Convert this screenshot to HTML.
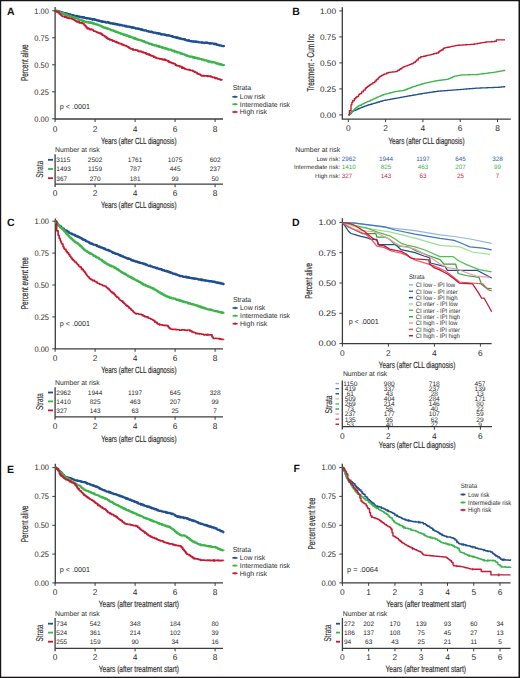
<!DOCTYPE html>
<html><head><meta charset="utf-8"><title>Figure</title>
<style>html,body{margin:0;padding:0;background:#fff;}svg{display:block;}text{font-family:"Liberation Sans", sans-serif;text-rendering:geometricPrecision;}</style>
</head><body>
<svg width="520" height="678" viewBox="0 0 520 678">
<rect width="520" height="678" fill="#fff"/>
<rect x="0" y="0" width="1.2" height="678" fill="#161414"/><rect x="0" y="0" width="520" height="1.25" fill="#161414"/><rect x="518.5" y="0" width="1.5" height="678" fill="#161414"/><rect x="0" y="676.7" width="520" height="1.3" fill="#161414"/>
<text x="6.90" y="14.86" font-size="10.5" fill="#111" stroke="#111" stroke-width="0.0" font-weight="bold">A</text>
<line x1="55.10" y1="7.00" x2="55.10" y2="119.50" stroke="#3c3c3c" stroke-width="1.3"/>
<line x1="52.10" y1="10.80" x2="55.10" y2="10.80" stroke="#3c3c3c" stroke-width="1.0"/>
<text x="48.80" y="13.66" font-size="8.0" fill="#2b2b2b" stroke="#2b2b2b" stroke-width="0.0" text-anchor="end" textLength="14.50" lengthAdjust="spacingAndGlyphs">1.00</text>
<line x1="52.10" y1="37.80" x2="55.10" y2="37.80" stroke="#3c3c3c" stroke-width="1.0"/>
<text x="48.80" y="40.66" font-size="8.0" fill="#2b2b2b" stroke="#2b2b2b" stroke-width="0.0" text-anchor="end" textLength="14.50" lengthAdjust="spacingAndGlyphs">0.75</text>
<line x1="52.10" y1="64.80" x2="55.10" y2="64.80" stroke="#3c3c3c" stroke-width="1.0"/>
<text x="48.80" y="67.66" font-size="8.0" fill="#2b2b2b" stroke="#2b2b2b" stroke-width="0.0" text-anchor="end" textLength="14.50" lengthAdjust="spacingAndGlyphs">0.50</text>
<line x1="52.10" y1="91.80" x2="55.10" y2="91.80" stroke="#3c3c3c" stroke-width="1.0"/>
<text x="48.80" y="94.66" font-size="8.0" fill="#2b2b2b" stroke="#2b2b2b" stroke-width="0.0" text-anchor="end" textLength="14.50" lengthAdjust="spacingAndGlyphs">0.25</text>
<line x1="52.10" y1="118.80" x2="55.10" y2="118.80" stroke="#3c3c3c" stroke-width="1.0"/>
<text x="48.80" y="121.66" font-size="8.0" fill="#2b2b2b" stroke="#2b2b2b" stroke-width="0.0" text-anchor="end" textLength="14.50" lengthAdjust="spacingAndGlyphs">0.00</text>
<line x1="55.10" y1="119.00" x2="223.00" y2="119.00" stroke="#3c3c3c" stroke-width="1.3"/>
<line x1="55.10" y1="119.00" x2="55.10" y2="122.00" stroke="#3c3c3c" stroke-width="1.0"/>
<text x="55.10" y="131.51" font-size="8.4" fill="#2b2b2b" stroke="#2b2b2b" stroke-width="0.0" text-anchor="middle">0</text>
<line x1="95.10" y1="119.00" x2="95.10" y2="122.00" stroke="#3c3c3c" stroke-width="1.0"/>
<text x="95.10" y="131.51" font-size="8.4" fill="#2b2b2b" stroke="#2b2b2b" stroke-width="0.0" text-anchor="middle">2</text>
<line x1="135.10" y1="119.00" x2="135.10" y2="122.00" stroke="#3c3c3c" stroke-width="1.0"/>
<text x="135.10" y="131.51" font-size="8.4" fill="#2b2b2b" stroke="#2b2b2b" stroke-width="0.0" text-anchor="middle">4</text>
<line x1="175.10" y1="119.00" x2="175.10" y2="122.00" stroke="#3c3c3c" stroke-width="1.0"/>
<text x="175.10" y="131.51" font-size="8.4" fill="#2b2b2b" stroke="#2b2b2b" stroke-width="0.0" text-anchor="middle">6</text>
<line x1="215.10" y1="119.00" x2="215.10" y2="122.00" stroke="#3c3c3c" stroke-width="1.0"/>
<text x="215.10" y="131.51" font-size="8.4" fill="#2b2b2b" stroke="#2b2b2b" stroke-width="0.0" text-anchor="middle">8</text>
<text x="101.00" y="144.00" font-size="9.0" fill="#2b2b2b" stroke="#2b2b2b" stroke-width="0.18" textLength="75.50" lengthAdjust="spacingAndGlyphs">Years (after CLL diagnosis)</text>
<text x="24.60" y="66.28" font-size="10.0" fill="#2b2b2b" stroke="#2b2b2b" stroke-width="0.18" text-anchor="middle" textLength="36.60" lengthAdjust="spacingAndGlyphs" transform="rotate(-90 24.60 62.70)">Percent alive</text>
<text x="59.80" y="108.58" font-size="7.2" fill="#2b2b2b" stroke="#2b2b2b" stroke-width="0.0">p &lt; .0001</text>
<text x="232.70" y="89.88" font-size="7.2" fill="#2b2b2b" stroke="#2b2b2b" stroke-width="0.0" textLength="18.40" lengthAdjust="spacingAndGlyphs">Strata</text>
<line x1="232.40" y1="96.80" x2="237.40" y2="96.80" stroke="#1f4f8f" stroke-width="1.6"/>
<line x1="234.90" y1="95.50" x2="234.90" y2="98.10" stroke="#1f4f8f" stroke-width="0.9"/>
<text x="239.80" y="99.27" font-size="6.9" fill="#2b2b2b" stroke="#2b2b2b" stroke-width="0.0" textLength="25.30" lengthAdjust="spacingAndGlyphs">Low risk</text>
<line x1="232.40" y1="104.20" x2="237.40" y2="104.20" stroke="#3bb54a" stroke-width="1.6"/>
<line x1="234.90" y1="102.90" x2="234.90" y2="105.50" stroke="#3bb54a" stroke-width="0.9"/>
<text x="239.80" y="106.67" font-size="6.9" fill="#2b2b2b" stroke="#2b2b2b" stroke-width="0.0" textLength="50.20" lengthAdjust="spacingAndGlyphs">Intermediate risk</text>
<line x1="232.40" y1="112.00" x2="237.40" y2="112.00" stroke="#c8172f" stroke-width="1.6"/>
<line x1="234.90" y1="110.70" x2="234.90" y2="113.30" stroke="#c8172f" stroke-width="0.9"/>
<text x="239.80" y="114.47" font-size="6.9" fill="#2b2b2b" stroke="#2b2b2b" stroke-width="0.0" textLength="27.20" lengthAdjust="spacingAndGlyphs">High risk</text>
<path d="M55.10,10.80H55.48V11.14H56.24V10.93H56.84V11.22H57.53V11.64H57.88V11.20H58.68V11.70H59.44V11.59H60.01V12.25H60.45V12.52H61.29V12.10H61.60V12.54H62.47V12.66H62.90V12.80H63.21V12.74H63.78V13.08H64.22V13.01H64.65V13.28H65.12V13.10H65.92V13.67H66.61V13.58H67.50V14.28H67.88V14.00H68.61V14.45H69.47V14.46H70.27V14.84H70.75V14.90H71.58V15.29H72.18V15.26H72.51V15.10H73.28V15.41H73.69V15.61H74.41V15.86H74.93V15.80H75.54V16.16H76.15V16.01H76.75V15.87H77.07V16.41H77.96V16.51H78.50V16.32H79.10V17.01H79.86V16.85H80.68V16.79H81.29V17.42H81.93V17.20H82.39V17.36H83.27V17.15H84.04V17.87H84.87V17.98H85.66V17.98H86.29V18.04H86.63V18.41H87.27V18.07H87.87V18.39H88.39V18.39H89.01V18.71H89.68V18.72H89.99V18.62H90.40V18.95H91.22V19.26H91.99V19.43H92.45V19.53H93.15V19.14H93.46V19.15H94.21V19.50H94.58V19.85H95.09V19.59H95.48V20.01H95.88V19.93H96.61V20.23H97.10V20.37H97.42V20.38H97.97V20.38H98.34V20.97H98.94V20.64H99.61V21.22H99.92V20.74H100.31V21.31H100.70V21.38H101.41V21.41H101.84V21.79H102.62V21.63H103.05V21.80H103.59V21.86H104.08V21.99H104.42V21.83H105.30V22.40H105.78V22.49H106.27V22.64H107.02V22.42H107.47V22.22H108.29V22.41H109.09V23.21H109.73V22.78H110.55V23.50H111.27V23.32H111.80V23.31H112.22V23.62H112.78V23.40H113.14V23.80H113.62V23.78H114.12V24.13H114.96V23.70H115.38V24.00H116.27V24.50H116.77V24.20H117.48V24.77H118.34V24.60H119.17V25.01H119.76V25.34H120.20V25.24H120.55V24.93H121.39V25.13H122.15V25.55H122.95V25.55H123.46V25.60H124.28V25.98H125.15V26.36H125.53V26.20H125.90V25.92H126.24V26.56H127.01V26.69H127.52V26.65H128.29V26.64H128.93V26.66H129.28V26.76H130.11V27.14H130.97V27.24H131.43V27.56H132.23V27.18H132.93V27.38H133.30V28.01H133.63V27.62H134.52V27.93H134.89V27.84H135.33V28.35H135.69V28.55H136.22V28.72H137.07V28.45H137.52V28.69H137.88V28.90H138.20V28.53H139.09V28.95H139.75V29.22H140.24V29.06H141.09V29.90H141.97V29.52H142.40V29.98H143.29V30.14H144.00V30.39H144.45V30.42H144.94V30.33H145.29V30.44H146.18V30.77H146.87V31.08H147.73V31.11H148.22V31.18H148.71V31.67H149.54V31.49H150.04V31.78H150.69V31.97H151.14V31.68H151.58V31.82H152.21V31.97H152.56V32.43H153.03V32.64H153.63V32.81H154.02V32.64H154.80V32.51H155.67V32.76H156.44V33.48H157.23V33.18H157.59V33.39H158.44V33.42H159.28V33.48H160.13V33.58H160.62V34.30H161.40V34.46H162.20V34.52H162.92V34.27H163.48V34.37H164.21V34.88H164.66V34.55H165.53V35.25H166.16V35.20H166.97V35.30H167.51V35.34H167.97V35.21H168.65V35.63H169.30V35.52H169.81V35.70H170.19V35.87H170.98V36.17H171.52V36.45H171.96V36.13H172.58V36.63H173.27V36.76H173.98V37.14H174.42V37.08H175.01V37.04H175.56V37.40H176.40V37.86H176.87V37.79H177.20V37.46H177.80V38.18H178.20V38.20H179.03V38.08H179.75V38.63H180.27V38.66H181.01V38.77H181.82V39.18H182.70V39.17H183.11V39.04H183.54V39.37H184.29V39.19H185.00V39.83H185.51V39.82H185.91V40.06H186.23V40.32H187.02V40.27H187.48V40.58H188.35V40.25H189.12V40.93H189.81V41.00H190.38V41.30H191.26V41.14H192.05V41.36H192.45V41.32H192.82V41.77H193.70V41.31H194.36V41.58H194.73V41.54H195.18V41.91H195.48V41.55H196.04V41.49H196.72V41.97H197.52V41.78H197.99V42.06H198.45V42.14H198.91V42.26H199.68V42.42H200.56V42.33H201.16V42.61H201.92V42.49H202.45V42.35H202.81V42.75H203.19V42.75H203.81V42.97H204.57V43.05H204.95V42.76H205.60V42.70H206.20V42.79H206.81V42.61H207.38V42.98H207.86V43.00H208.63V43.28H209.23V43.32H209.75V43.06H210.06V43.15H210.72V43.64H211.51V43.46H212.41V43.52H213.21V43.61H213.95V44.20H214.44V43.74H215.11V44.16H215.62V43.91H216.16V44.34H216.70V44.78H217.35V44.85H218.19V45.06H218.79V45.20H219.47V45.30H220.15V45.30H220.82V45.62H221.69V45.94H222.49V46.12H223.28V46.20H223.79V46.09H224.00V46.56" fill="none" stroke="#1f4f8f" stroke-width="2.2" stroke-linejoin="round"/>
<path d="M148.39,30.15v2.40M83.33,16.31v2.40M196.29,40.65v2.40M138.49,27.74v2.40M135.59,27.04v2.40M65.63,12.36v2.40M142.76,28.78v2.40M181.65,37.66v2.40M128.21,25.51v2.40M117.02,23.25v2.40M167.07,34.16v2.40M61.38,11.25v2.40M142.24,28.65v2.40M215.06,42.93v2.40M172.65,35.45v2.40M124.78,24.81v2.40M172.39,35.38v2.40M158.47,32.37v2.40M92.75,18.15v2.40M92.56,18.12v2.40M205.09,41.58v2.40M102.74,20.44v2.40M70.52,13.58v2.40M195.91,40.61v2.40M144.90,29.30v2.40M119.19,23.68v2.40M142.96,28.83v2.40M180.32,37.33v2.40M86.06,16.84v2.40M166.44,34.03v2.40M176.46,36.38v2.40M193.31,40.34v2.40M102.85,20.46v2.40M159.24,32.53v2.40M96.61,19.06v2.40M151.18,30.82v2.40M86.70,16.97v2.40M189.12,39.49v2.40M201.89,41.24v2.40M112.79,22.41v2.40M94.98,18.66v2.40M217.99,43.64v2.40M175.34,36.11v2.40M198.09,40.84v2.40M63.17,11.72v2.40M207.31,41.81v2.40M161.36,32.97v2.40M110.61,21.99v2.40M129.73,25.81v2.40M184.45,38.35v2.40M188.40,39.32v2.40M89.60,17.54v2.40M161.93,33.09v2.40M85.58,16.75v2.40M219.53,44.01v2.40M131.69,26.21v2.40M209.59,42.05v2.40M178.92,36.99v2.40M158.68,32.41v2.40M101.56,20.21v2.40" fill="none" stroke="#1f4f8f" stroke-width="0.7"/>
<path d="M55.10,10.80H55.97V11.39H56.31V10.89H57.11V11.61H57.81V11.53H58.47V11.95H59.12V11.84H59.68V12.19H60.42V12.90H61.28V12.93H61.85V12.97H62.17V12.93H62.75V13.37H63.28V13.99H63.90V14.01H64.34V13.81H64.83V14.08H65.44V14.89H66.14V14.57H66.98V15.29H67.72V15.62H68.48V15.81H68.99V16.12H69.87V15.85H70.62V16.50H71.20V16.57H71.79V17.06H72.39V17.20H72.90V17.42H73.74V17.41H74.38V17.97H75.12V17.96H75.55V18.03H76.27V18.21H77.12V18.62H77.96V19.00H78.84V19.63H79.44V19.74H80.13V20.07H80.62V20.00H81.22V20.76H81.90V20.43H82.69V21.21H83.54V21.18H84.28V21.29H84.97V21.57H85.41V22.08H85.77V21.90H86.59V21.87H87.01V22.40H87.57V22.39H87.89V22.20H88.29V22.50H88.64V22.77H88.95V22.67H89.27V22.40H90.05V22.48H90.46V22.94H91.00V22.59H91.89V22.84H92.21V23.04H92.88V23.45H93.25V23.24H93.57V23.39H94.33V23.89H95.17V24.22H95.99V24.50H96.57V24.39H97.27V24.72H97.63V24.95H98.45V25.04H99.10V25.48H99.71V25.54H100.59V25.95H101.25V26.31H101.56V26.52H101.95V26.31H102.27V26.50H102.62V26.97H103.23V27.43H104.09V27.76H104.53V27.54H104.98V27.81H105.65V28.20H106.38V28.09H106.93V28.48H107.24V28.25H107.78V28.51H108.52V28.87H108.88V28.96H109.31V29.15H109.93V29.55H110.41V29.85H110.84V30.19H111.72V30.40H112.28V30.45H112.93V30.37H113.48V30.90H113.89V30.75H114.67V31.23H115.28V31.85H115.95V31.65H116.84V32.04H117.15V32.37H117.51V32.24H118.31V32.78H118.62V32.73H119.17V32.95H119.59V33.17H119.94V33.08H120.46V33.72H120.81V33.72H121.22V33.73H121.76V33.85H122.51V34.06H122.88V34.00H123.23V34.64H123.92V34.95H124.63V34.55H125.33V35.32H126.06V35.39H126.58V35.54H127.35V35.68H127.97V36.05H128.84V36.58H129.70V36.91H130.18V36.65H130.77V36.88H131.33V37.37H132.18V37.61H132.97V37.54H133.49V38.36H133.87V38.09H134.21V37.97H135.05V38.90H135.74V38.54H136.22V38.77H136.92V39.33H137.48V39.42H137.85V39.56H138.72V40.01H139.08V39.96H139.81V40.04H140.64V40.47H141.37V40.68H142.26V41.26H142.91V41.03H143.47V41.15H144.13V41.97H144.54V41.85H145.13V41.98H145.85V42.61H146.58V42.53H147.45V42.74H148.20V43.23H148.96V43.63H149.39V43.62H149.93V43.84H150.82V44.12H151.13V44.11H151.85V44.65H152.55V44.82H152.86V45.00H153.59V44.98H154.44V45.43H154.80V45.49H155.56V45.29H156.30V45.78H156.72V46.06H157.10V46.04H157.66V45.96H158.30V46.30H158.72V46.78H159.07V46.21H159.66V46.97H160.35V47.12H160.95V47.24H161.45V47.11H162.05V47.12H162.40V47.73H162.80V47.85H163.57V47.84H164.28V48.32H165.09V48.11H165.49V48.40H166.07V48.52H166.38V48.79H167.26V48.92H167.88V49.12H168.45V49.63H168.93V49.62H169.52V49.73H170.37V49.69H171.16V50.11H171.85V50.69H172.54V50.63H173.35V50.69H174.03V51.13H174.65V51.65H175.43V51.76H175.91V51.64H176.48V51.83H176.95V52.49H177.32V52.52H177.85V52.37H178.34V52.34H178.91V52.59H179.48V52.86H180.31V53.58H180.88V53.57H181.74V53.64H182.10V53.69H182.51V54.14H183.03V54.09H183.81V54.26H184.60V54.80H185.14V55.11H185.64V55.32H186.50V55.34H187.21V55.89H187.96V56.00H188.78V56.40H189.53V56.68H190.01V56.59H190.71V56.59H191.24V56.59H192.12V56.94H192.71V57.47H193.12V57.63H193.49V57.07H194.00V57.43H194.85V58.02H195.61V57.90H196.24V57.92H197.04V58.24H197.51V58.53H197.90V58.41H198.75V58.47H199.14V58.65H199.59V58.92H200.04V58.98H200.49V59.02H201.15V59.26H201.68V59.70H202.01V59.35H202.83V59.76H203.59V59.75H204.21V60.40H204.71V60.48H205.38V60.39H206.27V60.62H206.86V60.93H207.35V61.21H208.01V61.20H208.63V61.64H209.52V61.77H210.10V61.62H210.71V61.52H211.08V62.28H211.45V62.33H212.16V62.50H212.51V62.16H213.29V62.16H213.65V62.49H214.05V62.45H214.76V62.60H215.64V63.22H215.97V63.48H216.41V63.30H217.05V63.23H217.65V63.33H218.07V64.04H218.86V63.97H219.57V64.41H219.96V64.24H220.33V64.07H220.70V64.24H221.03V64.33H221.56V64.75H222.37V65.16H223.10V65.07H223.95V65.05H224.00V65.52" fill="none" stroke="#3bb54a" stroke-width="2.2" stroke-linejoin="round"/>
<path d="M162.14,46.28v2.40M92.99,22.10v2.40M120.69,32.30v2.40M107.44,27.45v2.40M129.58,35.43v2.40M129.06,35.25v2.40M124.15,33.52v2.40M190.45,55.41v2.40M192.73,56.00v2.40M151.41,43.03v2.40M136.53,37.87v2.40M105.29,26.66v2.40M185.07,53.67v2.40M221.82,63.53v2.40M96.11,23.20v2.40M174.74,50.24v2.40M174.07,50.02v2.40M167.30,47.83v2.40M63.18,12.47v2.40M149.63,42.41v2.40M91.61,21.83v2.40M90.34,21.58v2.40M154.29,43.92v2.40M165.12,47.17v2.40M161.86,46.19v2.40M181.23,52.39v2.40M174.67,50.21v2.40M136.93,38.01v2.40M66.03,13.55v2.40M186.21,54.04v2.40M194.65,56.50v2.40M196.71,57.03v2.40M157.32,44.83v2.40M64.43,12.98v2.40M90.60,21.63v2.40M76.07,17.16v2.40M163.59,46.71v2.40M148.40,41.98v2.40M89.04,21.33v2.40M216.67,62.19v2.40M220.35,63.15v2.40M207.29,59.75v2.40M135.06,37.36v2.40M106.51,27.11v2.40M92.75,22.05v2.40M194.82,56.54v2.40M174.39,50.12v2.40M104.11,26.22v2.40M207.82,59.89v2.40M152.49,43.38v2.40M126.56,34.37v2.40M127.02,34.53v2.40M177.62,51.19v2.40M133.64,36.86v2.40M167.47,47.88v2.40M78.35,18.08v2.40M174.61,50.20v2.40M103.26,25.91v2.40M209.15,60.23v2.40M93.67,22.26v2.40" fill="none" stroke="#3bb54a" stroke-width="0.7"/>
<path d="M55.10,10.80H55.61V11.11H56.25V11.50H57.11V11.53H57.42V12.31H57.96V12.14H59.15V13.53H60.20V14.59H61.08V15.06H61.95V16.07H62.72V16.35H63.63V16.26H64.61V17.17H65.18V16.85H66.26V17.42H67.21V17.95H68.15V18.18H68.80V18.22H69.50V18.49H70.59V18.25H71.02V18.51H72.19V19.15H73.05V19.39H73.81V19.75H74.42V20.18H75.25V20.85H76.16V21.32H77.23V21.91H78.14V21.70H79.21V22.84H80.33V22.87H81.27V22.88H82.32V23.50H82.87V23.26H83.94V24.50H84.32V24.91H84.99V25.39H85.56V26.72H86.64V27.75H87.49V28.07H88.44V28.57H89.53V29.41H90.29V29.65H90.87V29.08H91.71V29.33H92.18V29.87H93.03V30.09H93.37V30.83H93.95V31.19H95.06V31.28H95.78V31.75H96.66V32.21H97.46V32.53H98.61V32.88H99.29V33.31H99.81V33.17H100.99V34.07H101.78V34.20H102.45V35.10H102.77V35.34H103.64V35.48H104.51V36.38H105.42V36.89H106.35V37.83H106.67V37.50H107.58V38.83H108.11V38.77H108.94V39.15H109.57V39.40H110.20V39.89H110.77V39.94H111.77V40.07H112.58V40.97H113.16V40.79H114.18V41.22H114.65V41.57H115.58V41.68H116.17V42.11H117.22V42.62H118.29V42.82H118.89V43.44H119.99V43.71H120.49V43.64H121.27V44.00H122.29V44.92H122.76V44.66H123.78V45.35H124.81V45.51H125.23V45.63H126.24V46.04H126.85V46.47H127.53V46.80H128.66V47.17H128.96V47.96H130.06V48.55H130.75V48.87H131.88V48.86H132.85V49.85H133.75V49.83H134.31V49.83H134.81V49.73H135.64V50.12H136.67V50.18H137.79V50.98H138.92V51.42H140.03V51.44H140.34V51.66H140.79V51.41H141.69V51.82H142.36V52.32H143.21V52.05H143.74V52.69H144.47V52.95H145.09V52.75H145.87V53.60H146.32V53.78H147.45V54.29H148.49V54.12H149.36V55.19H149.70V54.87H150.25V55.31H150.93V55.57H151.93V55.64H152.27V55.90H152.69V56.03H153.86V57.19H154.24V57.07H154.83V57.18H155.44V57.72H156.27V57.86H156.74V58.05H157.15V58.37H158.10V58.42H158.47V58.33H159.11V58.79H160.11V58.81H161.13V59.21H161.82V59.14H162.57V59.55H163.24V59.68H163.96V59.46H164.74V59.97H165.11V59.82H165.79V60.35H166.93V60.51H168.04V61.39H168.58V61.39H168.99V61.87H169.88V62.38H170.90V62.70H171.86V63.09H172.25V63.31H172.55V63.10H173.55V63.52H173.93V63.75H175.03V64.31H175.35V64.98H175.76V65.16H176.66V65.54H177.82V65.83H178.84V65.84H179.83V66.64H180.77V66.72H181.75V67.80H182.10V67.47H182.91V68.22H183.43V67.92H183.95V68.50H184.93V68.74H185.56V69.01H186.18V69.30H186.55V69.51H187.73V69.65H188.70V69.63H189.62V70.27H190.53V70.25H191.26V70.48H192.37V70.42H192.76V71.11H193.88V71.54H194.58V72.08H195.05V71.97H195.53V72.49H196.11V72.52H197.03V73.60H197.60V73.71H198.27V74.20H199.10V74.18H199.59V74.25H200.32V74.94H200.78V75.17H201.37V75.65H201.80V75.86H202.53V75.62H203.25V75.87H204.29V75.74H205.02V75.93H206.09V75.77H207.06V76.31H207.78V75.79H208.29V76.22H209.19V76.50H210.26V76.08H210.73V76.25H211.20V76.76H212.28V77.28H212.80V77.43H213.39V77.27H214.34V77.32H214.73V78.04H215.29V77.85H216.11V78.38H216.42V78.21H217.11V78.56H217.60V78.80H218.76V79.03H219.55V79.08H220.10V79.70H220.50V80.01H221.62V79.75H222.00V80.10" fill="none" stroke="#c8172f" stroke-width="1.7" stroke-linejoin="round"/>
<path d="M184.70,67.63v2.20M182.23,66.56v2.20M106.54,36.66v2.20M168.88,60.47v2.20M165.30,58.82v2.20M190.21,69.07v2.20M101.63,33.39v2.20M181.71,66.34v2.20M215.66,76.99v2.20M168.38,60.22v2.20M145.98,52.29v2.20M76.67,20.13v2.20M139.05,50.04v2.20M115.82,41.00v2.20M175.80,63.80v2.20M169.31,60.69v2.20M150.93,54.50v2.20M87.93,27.46v2.20M163.92,58.55v2.20M161.50,58.08v2.20M87.46,27.32v2.20M203.96,74.56v2.20M165.52,58.86v2.20M78.28,20.94v2.20M210.83,75.38v2.20M81.27,22.01v2.20M112.44,39.62v2.20M176.19,63.97v2.20M156.02,56.76v2.20M149.05,53.66v2.20M164.22,58.61v2.20M133.12,48.55v2.20M109.31,38.35v2.20M87.01,27.19v2.20M69.34,16.99v2.20M175.43,63.64v2.20M181.76,66.36v2.20M147.12,52.80v2.20M179.33,65.32v2.20M116.98,41.47v2.20" fill="none" stroke="#c8172f" stroke-width="0.7"/>
<text x="55.00" y="151.97" font-size="6.9" fill="#2b2b2b" stroke="#2b2b2b" stroke-width="0.0" textLength="44.60" lengthAdjust="spacingAndGlyphs">Number at risk</text>
<line x1="55.10" y1="154.20" x2="55.10" y2="186.90" stroke="#3c3c3c" stroke-width="1.3"/>
<line x1="55.10" y1="184.20" x2="223.00" y2="184.20" stroke="#3c3c3c" stroke-width="1.3"/>
<line x1="95.10" y1="184.20" x2="95.10" y2="187.20" stroke="#3c3c3c" stroke-width="1.0"/>
<line x1="135.10" y1="184.20" x2="135.10" y2="187.20" stroke="#3c3c3c" stroke-width="1.0"/>
<line x1="175.10" y1="184.20" x2="175.10" y2="187.20" stroke="#3c3c3c" stroke-width="1.0"/>
<line x1="215.10" y1="184.20" x2="215.10" y2="187.20" stroke="#3c3c3c" stroke-width="1.0"/>
<text x="55.10" y="195.91" font-size="8.4" fill="#2b2b2b" stroke="#2b2b2b" stroke-width="0.0" text-anchor="middle">0</text>
<text x="95.10" y="195.91" font-size="8.4" fill="#2b2b2b" stroke="#2b2b2b" stroke-width="0.0" text-anchor="middle">2</text>
<text x="135.10" y="195.91" font-size="8.4" fill="#2b2b2b" stroke="#2b2b2b" stroke-width="0.0" text-anchor="middle">4</text>
<text x="175.10" y="195.91" font-size="8.4" fill="#2b2b2b" stroke="#2b2b2b" stroke-width="0.0" text-anchor="middle">6</text>
<text x="215.10" y="195.91" font-size="8.4" fill="#2b2b2b" stroke="#2b2b2b" stroke-width="0.0" text-anchor="middle">8</text>
<text x="101.00" y="208.40" font-size="9.0" fill="#2b2b2b" stroke="#2b2b2b" stroke-width="0.18" textLength="75.50" lengthAdjust="spacingAndGlyphs">Years (after CLL diagnosis)</text>
<text x="39.80" y="172.88" font-size="10.0" fill="#2b2b2b" stroke="#2b2b2b" stroke-width="0.1" text-anchor="middle" textLength="17.00" lengthAdjust="spacingAndGlyphs" transform="rotate(-90 39.80 169.30)">Strata</text>
<line x1="48.00" y1="159.80" x2="53.00" y2="159.80" stroke="#1f4f8f" stroke-width="1.8"/>
<text x="56.30" y="162.13" font-size="6.5" fill="#2b2b2b" stroke="#2b2b2b" stroke-width="0.0">3115</text>
<text x="95.10" y="162.13" font-size="6.5" fill="#2b2b2b" stroke="#2b2b2b" stroke-width="0.0" text-anchor="middle">2502</text>
<text x="135.10" y="162.13" font-size="6.5" fill="#2b2b2b" stroke="#2b2b2b" stroke-width="0.0" text-anchor="middle">1761</text>
<text x="175.10" y="162.13" font-size="6.5" fill="#2b2b2b" stroke="#2b2b2b" stroke-width="0.0" text-anchor="middle">1075</text>
<text x="215.10" y="162.13" font-size="6.5" fill="#2b2b2b" stroke="#2b2b2b" stroke-width="0.0" text-anchor="middle">602</text>
<line x1="48.00" y1="169.00" x2="53.00" y2="169.00" stroke="#3bb54a" stroke-width="1.8"/>
<text x="56.30" y="171.33" font-size="6.5" fill="#2b2b2b" stroke="#2b2b2b" stroke-width="0.0">1493</text>
<text x="95.10" y="171.33" font-size="6.5" fill="#2b2b2b" stroke="#2b2b2b" stroke-width="0.0" text-anchor="middle">1159</text>
<text x="135.10" y="171.33" font-size="6.5" fill="#2b2b2b" stroke="#2b2b2b" stroke-width="0.0" text-anchor="middle">787</text>
<text x="175.10" y="171.33" font-size="6.5" fill="#2b2b2b" stroke="#2b2b2b" stroke-width="0.0" text-anchor="middle">445</text>
<text x="215.10" y="171.33" font-size="6.5" fill="#2b2b2b" stroke="#2b2b2b" stroke-width="0.0" text-anchor="middle">237</text>
<line x1="48.00" y1="178.20" x2="53.00" y2="178.20" stroke="#c8172f" stroke-width="1.8"/>
<text x="56.30" y="180.53" font-size="6.5" fill="#2b2b2b" stroke="#2b2b2b" stroke-width="0.0">367</text>
<text x="95.10" y="180.53" font-size="6.5" fill="#2b2b2b" stroke="#2b2b2b" stroke-width="0.0" text-anchor="middle">270</text>
<text x="135.10" y="180.53" font-size="6.5" fill="#2b2b2b" stroke="#2b2b2b" stroke-width="0.0" text-anchor="middle">181</text>
<text x="175.10" y="180.53" font-size="6.5" fill="#2b2b2b" stroke="#2b2b2b" stroke-width="0.0" text-anchor="middle">99</text>
<text x="215.10" y="180.53" font-size="6.5" fill="#2b2b2b" stroke="#2b2b2b" stroke-width="0.0" text-anchor="middle">50</text>
<text x="292.30" y="15.06" font-size="10.5" fill="#111" stroke="#111" stroke-width="0.0" font-weight="bold">B</text>
<line x1="342.30" y1="7.20" x2="342.30" y2="119.50" stroke="#3c3c3c" stroke-width="1.3"/>
<line x1="339.30" y1="10.90" x2="342.30" y2="10.90" stroke="#3c3c3c" stroke-width="1.0"/>
<text x="336.00" y="13.76" font-size="8.0" fill="#2b2b2b" stroke="#2b2b2b" stroke-width="0.0" text-anchor="end" textLength="16.00" lengthAdjust="spacingAndGlyphs">1.00</text>
<line x1="339.30" y1="36.90" x2="342.30" y2="36.90" stroke="#3c3c3c" stroke-width="1.0"/>
<text x="336.00" y="39.76" font-size="8.0" fill="#2b2b2b" stroke="#2b2b2b" stroke-width="0.0" text-anchor="end" textLength="16.00" lengthAdjust="spacingAndGlyphs">0.75</text>
<line x1="339.30" y1="62.90" x2="342.30" y2="62.90" stroke="#3c3c3c" stroke-width="1.0"/>
<text x="336.00" y="65.76" font-size="8.0" fill="#2b2b2b" stroke="#2b2b2b" stroke-width="0.0" text-anchor="end" textLength="16.00" lengthAdjust="spacingAndGlyphs">0.50</text>
<line x1="339.30" y1="88.90" x2="342.30" y2="88.90" stroke="#3c3c3c" stroke-width="1.0"/>
<text x="336.00" y="91.76" font-size="8.0" fill="#2b2b2b" stroke="#2b2b2b" stroke-width="0.0" text-anchor="end" textLength="16.00" lengthAdjust="spacingAndGlyphs">0.25</text>
<line x1="339.30" y1="114.90" x2="342.30" y2="114.90" stroke="#3c3c3c" stroke-width="1.0"/>
<text x="336.00" y="117.76" font-size="8.0" fill="#2b2b2b" stroke="#2b2b2b" stroke-width="0.0" text-anchor="end" textLength="16.00" lengthAdjust="spacingAndGlyphs">0.00</text>
<line x1="342.10" y1="119.20" x2="510.80" y2="119.20" stroke="#3c3c3c" stroke-width="1.3"/>
<line x1="348.30" y1="119.20" x2="348.30" y2="122.20" stroke="#3c3c3c" stroke-width="1.0"/>
<text x="348.30" y="131.31" font-size="8.4" fill="#2b2b2b" stroke="#2b2b2b" stroke-width="0.0" text-anchor="middle">0</text>
<line x1="385.60" y1="119.20" x2="385.60" y2="122.20" stroke="#3c3c3c" stroke-width="1.0"/>
<text x="385.60" y="131.31" font-size="8.4" fill="#2b2b2b" stroke="#2b2b2b" stroke-width="0.0" text-anchor="middle">2</text>
<line x1="422.90" y1="119.20" x2="422.90" y2="122.20" stroke="#3c3c3c" stroke-width="1.0"/>
<text x="422.90" y="131.31" font-size="8.4" fill="#2b2b2b" stroke="#2b2b2b" stroke-width="0.0" text-anchor="middle">4</text>
<line x1="460.20" y1="119.20" x2="460.20" y2="122.20" stroke="#3c3c3c" stroke-width="1.0"/>
<text x="460.20" y="131.31" font-size="8.4" fill="#2b2b2b" stroke="#2b2b2b" stroke-width="0.0" text-anchor="middle">6</text>
<line x1="497.50" y1="119.20" x2="497.50" y2="122.20" stroke="#3c3c3c" stroke-width="1.0"/>
<text x="497.50" y="131.31" font-size="8.4" fill="#2b2b2b" stroke="#2b2b2b" stroke-width="0.0" text-anchor="middle">8</text>
<text x="388.40" y="144.00" font-size="9.0" fill="#2b2b2b" stroke="#2b2b2b" stroke-width="0.18" textLength="76.20" lengthAdjust="spacingAndGlyphs">Years (after CLL diagnosis)</text>
<text x="310.30" y="66.28" font-size="10.0" fill="#2b2b2b" stroke="#2b2b2b" stroke-width="0.18" text-anchor="middle" textLength="57.80" lengthAdjust="spacingAndGlyphs" transform="rotate(-90 310.30 62.70)">Treatment - Cum Inc</text>
<path d="M348.50,114.90H349.41V114.02H350.74V112.73H351.70V111.80H352.36V111.34H353.43V110.85H354.01V110.59H354.60V110.32H355.72V109.82H357.10V109.19H358.19V108.74H358.83V108.48H359.81V108.09H360.48V107.82H361.01V107.61H361.90V107.25H362.87V106.86H363.82V106.48H364.73V106.11H366.13V105.56H367.39V105.19H368.17V104.96H368.93V104.74H370.12V104.39H371.38V104.02H372.74V103.62H373.24V103.47H374.56V103.08H375.95V102.67H376.51V102.51H377.71V102.16H378.29V101.98H379.66V101.58H380.27V101.40H380.86V101.23H382.07V100.87H383.08V100.59H383.75V100.46H384.37V100.35H384.97V100.24H385.66V100.11H387.04V99.85H387.81V99.71H388.50V99.58H389.77V99.35H390.36V99.24H391.05V99.11H392.25V98.89H393.01V98.75H393.59V98.64H394.31V98.51H395.15V98.35H396.51V98.10H397.53V97.91H398.19V97.79H399.51V97.55H400.23V97.41H401.40V97.20H402.08V97.07H403.37V96.84H404.25V96.68H404.79V96.59H405.50V96.46H406.23V96.33H407.27V96.15H407.93V96.04H408.49V95.94H409.49V95.76H410.54V95.58H411.87V95.35H412.38V95.26H413.29V95.10H413.94V94.98H414.96V94.81H415.79V94.66H417.17V94.42H418.29V94.22H418.92V94.11H419.43V94.02H420.56V93.83H421.08V93.74H422.02V93.57H422.80V93.43H423.37V93.34H424.53V93.17H425.70V93.00H426.91V92.81H427.73V92.69H429.04V92.49H429.91V92.36H431.19V92.17H432.25V92.01H433.28V91.86H433.85V91.77H435.24V91.56H436.40V91.39H437.56V91.26H438.46V91.18H439.03V91.14H439.56V91.10H440.49V91.02H441.62V90.93H442.67V90.85H443.40V90.79H444.18V90.73H444.86V90.68H446.17V90.57H447.07V90.50H447.87V90.44H448.54V90.39H449.77V90.29H451.06V90.19H452.09V90.11H452.71V90.06H453.96V89.96H455.10V89.87H455.85V89.81H456.76V89.74H457.45V89.68H458.51V89.60H459.30V89.53H460.68V89.43H461.25V89.38H462.53V89.28H463.67V89.18H464.45V89.12H464.97V89.08H465.88V89.00H467.12V88.90H467.75V88.85H468.82V88.77H469.88V88.68H471.11V88.58H472.22V88.49H473.15V88.41H473.66V88.37H474.81V88.28H475.55V88.22H476.68V88.13H477.73V88.07H478.58V88.04H479.90V87.99H481.24V87.94H481.86V87.91H482.92V87.87H483.76V87.84H485.05V87.79H486.40V87.74H487.49V87.70H488.64V87.66H489.71V87.62H490.41V87.59H491.79V87.54H492.77V87.50H493.56V87.47H494.83V87.42H495.40V87.40H496.40V87.36H497.34V87.33H498.57V87.24H499.79V87.12H500.59V87.04H501.21V86.98H502.18V86.88H503.44V86.76H504.79V86.62H505.00V86.60" fill="none" stroke="#1f4f8f" stroke-width="1.3" stroke-linejoin="round"/>
<path d="M348.50,114.90H349.43V113.95H350.53V112.82H351.04V112.30H351.78V111.53H352.90V110.44H353.91V109.54H354.54V108.97H355.18V108.40H355.74V107.90H356.30V107.39H357.11V106.67H358.37V105.97H358.92V105.70H359.88V105.23H361.27V104.54H361.87V104.24H362.49V103.94H363.55V103.41H364.68V102.85H365.33V102.53H366.19V102.12H367.23V101.66H368.07V101.29H369.23V100.78H370.61V100.17H371.43V99.81H372.55V99.31H373.15V99.05H373.98V98.68H375.21V98.14H375.73V97.91H376.62V97.52H377.32V97.21H378.17V96.83H378.76V96.57H379.42V96.28H379.95V96.04H380.76V95.69H381.31V95.45H382.00V95.14H382.93V94.73H383.86V94.48H384.51V94.31H385.34V94.09H386.51V93.78H387.02V93.65H388.21V93.34H388.93V93.15H389.46V93.01H390.85V92.65H391.80V92.40H392.59V92.19H393.84V91.86H394.55V91.68H395.48V91.44H396.22V91.28H397.52V91.15H398.28V91.07H399.03V91.00H400.00V90.90H401.13V90.79H401.89V90.71H403.00V90.60H403.62V90.35H404.50V90.00H405.39V89.64H406.39V89.24H407.72V88.71H408.91V88.24H409.94V87.83H411.15V87.34H411.96V87.02H413.12V86.56H413.64V86.41H414.95V86.03H416.26V85.65H417.24V85.36H418.08V85.12H418.90V84.88H420.24V84.49H421.23V84.20H421.84V84.02H422.97V83.69H423.69V83.48H424.48V83.25H425.11V83.08H425.89V82.91H427.07V82.67H428.42V82.39H428.94V82.28H429.84V82.09H430.94V81.86H431.66V81.71H433.01V81.43H433.83V81.26H434.51V81.12H435.21V80.97H436.16V80.77H436.81V80.64H437.85V80.49H438.58V80.40H439.85V80.25H440.55V80.16H441.74V80.01H442.84V79.88H444.22V79.71H445.33V79.57H446.49V79.42H447.44V79.31H448.22V78.96H448.92V78.62H449.65V78.28H450.87V77.69H452.21V77.05H453.06V76.65H454.37V76.14H454.98V76.03H456.24V75.82H457.45V75.61H458.50V75.43H459.37V75.28H460.22V75.13H461.44V74.99H462.13V74.96H463.50V74.92H464.05V74.90H465.34V74.86H466.16V74.84H466.93V74.81H468.21V74.77H468.90V74.75H469.42V74.74H469.94V74.72H470.58V74.70H471.35V74.68H472.02V74.66H473.29V74.62H473.88V74.60H474.87V74.57H475.84V74.54H477.06V74.49H478.13V74.35H479.20V74.21H480.08V74.10H481.22V73.95H482.55V73.77H483.82V73.61H485.18V73.43H486.07V73.31H487.11V73.18H488.37V73.01H488.93V72.94H489.50V72.87H490.01V72.80H490.61V72.71H491.67V72.55H493.03V72.35H494.38V72.14H495.09V72.04H496.02V71.90H497.20V71.72H498.19V71.56H498.91V71.42H499.95V71.21H501.34V70.93H502.68V70.66H503.45V70.51H504.49V70.30H505.00V70.20H505.00V70.20" fill="none" stroke="#3bb54a" stroke-width="1.3" stroke-linejoin="round"/>
<path d="M348.50,114.90H349.46V110.78H351.02V104.63H351.88V102.43H352.69V100.77H354.31V98.73H355.66V97.51H356.67V96.64H358.44V94.97H359.06V94.36H359.87V93.56H361.60V91.85H363.36V90.11H365.29V88.20H366.25V87.32H367.53V86.42H368.92V85.43H370.03V84.64H371.07V83.91H372.82V82.67H374.80V81.21H376.17V79.89H376.96V79.13H378.18V77.95H379.06V77.10H380.02V76.19H381.47V75.50H382.25V75.13H383.18V74.69H384.05V74.28H384.75V73.94H386.69V73.02H388.30V72.37H388.96V72.30H390.69V72.13H392.18V71.98H393.36V71.86H395.20V71.68H396.08V71.54H397.21V70.81H398.00V70.29H399.45V69.34H400.34V68.75H401.75V67.82H402.86V67.09H403.94V66.65H404.77V66.35H405.52V66.07H406.22V65.81H407.60V65.30H408.25V65.06H409.33V64.66H409.94V64.43H410.71V64.15H411.68V63.79H412.39V63.52H413.51V62.84H414.11V62.28H415.41V61.10H416.73V59.89H418.27V58.48H418.91V57.89H420.79V56.76H421.75V56.58H423.54V56.26H424.96V56.01H425.90V55.77H426.79V55.54H427.44V55.37H428.16V55.19H429.60V54.82H431.29V54.39H432.56V54.06H433.63V53.79H434.84V53.48H436.64V53.02H438.40V51.98H439.42V51.25H440.07V50.79H441.17V50.01H443.00V48.71H443.66V48.24H444.44V47.90H445.50V47.68H446.86V47.39H447.47V47.26H449.28V46.87H450.55V46.59H451.63V46.36H452.53V46.17H454.07V45.84H455.39V45.55H456.61V45.36H458.08V45.26H459.94V45.13H460.73V45.08H462.47V44.96H463.49V44.89H464.50V44.82H465.18V44.77H466.79V44.66H468.40V44.55H470.40V44.41H471.59V44.33H473.36V44.20H474.36V44.03H475.12V43.89H477.11V43.53H478.09V43.36H479.32V43.13H479.96V43.02H481.02V42.83H481.97V42.66H483.76V42.33H485.75V41.99H487.03V41.93H488.28V41.88H489.63V41.81H490.75V41.76H491.62V41.72H492.27V41.69H493.12V41.65H494.54V41.28H496.38V39.90H497.71V39.90H498.61V39.90H500.12V39.90H502.06V39.90H503.87V39.90H505.00V39.90" fill="none" stroke="#c8172f" stroke-width="1.35" stroke-linejoin="round"/>
<text x="295.30" y="152.47" font-size="6.9" fill="#2b2b2b" stroke="#2b2b2b" stroke-width="0.0" textLength="44.80" lengthAdjust="spacingAndGlyphs">Number at risk</text>
<text x="340.10" y="160.55" font-size="6.0" fill="#2b2b2b" stroke="#2b2b2b" stroke-width="0.0" text-anchor="end">Low risk:</text>
<text x="340.10" y="169.05" font-size="6.0" fill="#2b2b2b" stroke="#2b2b2b" stroke-width="0.0" text-anchor="end">Intermediate risk:</text>
<text x="340.10" y="177.65" font-size="6.0" fill="#2b2b2b" stroke="#2b2b2b" stroke-width="0.0" text-anchor="end">High risk:</text>
<text x="341.80" y="160.66" font-size="6.3" fill="#2f62a8" stroke="#2f62a8" stroke-width="0.0">2962</text>
<text x="385.90" y="160.66" font-size="6.3" fill="#2f62a8" stroke="#2f62a8" stroke-width="0.0" text-anchor="middle">1944</text>
<text x="423.00" y="160.66" font-size="6.3" fill="#2f62a8" stroke="#2f62a8" stroke-width="0.0" text-anchor="middle">1197</text>
<text x="460.50" y="160.66" font-size="6.3" fill="#2f62a8" stroke="#2f62a8" stroke-width="0.0" text-anchor="middle">645</text>
<text x="497.50" y="160.66" font-size="6.3" fill="#2f62a8" stroke="#2f62a8" stroke-width="0.0" text-anchor="middle">328</text>
<text x="341.80" y="169.16" font-size="6.3" fill="#3fb54d" stroke="#3fb54d" stroke-width="0.0">1410</text>
<text x="385.90" y="169.16" font-size="6.3" fill="#3fb54d" stroke="#3fb54d" stroke-width="0.0" text-anchor="middle">825</text>
<text x="423.00" y="169.16" font-size="6.3" fill="#3fb54d" stroke="#3fb54d" stroke-width="0.0" text-anchor="middle">463</text>
<text x="460.50" y="169.16" font-size="6.3" fill="#3fb54d" stroke="#3fb54d" stroke-width="0.0" text-anchor="middle">207</text>
<text x="497.50" y="169.16" font-size="6.3" fill="#3fb54d" stroke="#3fb54d" stroke-width="0.0" text-anchor="middle">99</text>
<text x="341.80" y="177.76" font-size="6.3" fill="#cc2a3e" stroke="#cc2a3e" stroke-width="0.0">327</text>
<text x="385.90" y="177.76" font-size="6.3" fill="#cc2a3e" stroke="#cc2a3e" stroke-width="0.0" text-anchor="middle">143</text>
<text x="423.00" y="177.76" font-size="6.3" fill="#cc2a3e" stroke="#cc2a3e" stroke-width="0.0" text-anchor="middle">63</text>
<text x="460.50" y="177.76" font-size="6.3" fill="#cc2a3e" stroke="#cc2a3e" stroke-width="0.0" text-anchor="middle">25</text>
<text x="497.50" y="177.76" font-size="6.3" fill="#cc2a3e" stroke="#cc2a3e" stroke-width="0.0" text-anchor="middle">7</text>
<text x="6.90" y="226.06" font-size="10.5" fill="#111" stroke="#111" stroke-width="0.0" font-weight="bold">C</text>
<line x1="55.30" y1="218.40" x2="55.30" y2="349.30" stroke="#3c3c3c" stroke-width="1.3"/>
<line x1="52.30" y1="221.20" x2="55.30" y2="221.20" stroke="#3c3c3c" stroke-width="1.0"/>
<text x="49.00" y="224.06" font-size="8.0" fill="#2b2b2b" stroke="#2b2b2b" stroke-width="0.0" text-anchor="end" textLength="14.50" lengthAdjust="spacingAndGlyphs">1.00</text>
<line x1="52.30" y1="253.10" x2="55.30" y2="253.10" stroke="#3c3c3c" stroke-width="1.0"/>
<text x="49.00" y="255.96" font-size="8.0" fill="#2b2b2b" stroke="#2b2b2b" stroke-width="0.0" text-anchor="end" textLength="14.50" lengthAdjust="spacingAndGlyphs">0.75</text>
<line x1="52.30" y1="285.00" x2="55.30" y2="285.00" stroke="#3c3c3c" stroke-width="1.0"/>
<text x="49.00" y="287.86" font-size="8.0" fill="#2b2b2b" stroke="#2b2b2b" stroke-width="0.0" text-anchor="end" textLength="14.50" lengthAdjust="spacingAndGlyphs">0.50</text>
<line x1="52.30" y1="316.90" x2="55.30" y2="316.90" stroke="#3c3c3c" stroke-width="1.0"/>
<text x="49.00" y="319.76" font-size="8.0" fill="#2b2b2b" stroke="#2b2b2b" stroke-width="0.0" text-anchor="end" textLength="14.50" lengthAdjust="spacingAndGlyphs">0.25</text>
<line x1="52.30" y1="348.80" x2="55.30" y2="348.80" stroke="#3c3c3c" stroke-width="1.0"/>
<text x="49.00" y="351.66" font-size="8.0" fill="#2b2b2b" stroke="#2b2b2b" stroke-width="0.0" text-anchor="end" textLength="14.50" lengthAdjust="spacingAndGlyphs">0.00</text>
<line x1="55.30" y1="348.80" x2="223.00" y2="348.80" stroke="#3c3c3c" stroke-width="1.3"/>
<line x1="55.10" y1="348.80" x2="55.10" y2="351.80" stroke="#3c3c3c" stroke-width="1.0"/>
<text x="55.10" y="360.71" font-size="8.4" fill="#2b2b2b" stroke="#2b2b2b" stroke-width="0.0" text-anchor="middle">0</text>
<line x1="95.10" y1="348.80" x2="95.10" y2="351.80" stroke="#3c3c3c" stroke-width="1.0"/>
<text x="95.10" y="360.71" font-size="8.4" fill="#2b2b2b" stroke="#2b2b2b" stroke-width="0.0" text-anchor="middle">2</text>
<line x1="135.10" y1="348.80" x2="135.10" y2="351.80" stroke="#3c3c3c" stroke-width="1.0"/>
<text x="135.10" y="360.71" font-size="8.4" fill="#2b2b2b" stroke="#2b2b2b" stroke-width="0.0" text-anchor="middle">4</text>
<line x1="175.10" y1="348.80" x2="175.10" y2="351.80" stroke="#3c3c3c" stroke-width="1.0"/>
<text x="175.10" y="360.71" font-size="8.4" fill="#2b2b2b" stroke="#2b2b2b" stroke-width="0.0" text-anchor="middle">6</text>
<line x1="215.10" y1="348.80" x2="215.10" y2="351.80" stroke="#3c3c3c" stroke-width="1.0"/>
<text x="215.10" y="360.71" font-size="8.4" fill="#2b2b2b" stroke="#2b2b2b" stroke-width="0.0" text-anchor="middle">8</text>
<text x="101.20" y="373.20" font-size="9.0" fill="#2b2b2b" stroke="#2b2b2b" stroke-width="0.18" textLength="75.40" lengthAdjust="spacingAndGlyphs">Years (after CLL diagnosis)</text>
<text x="24.75" y="286.78" font-size="10.0" fill="#2b2b2b" stroke="#2b2b2b" stroke-width="0.18" text-anchor="middle" textLength="52.10" lengthAdjust="spacingAndGlyphs" transform="rotate(-90 24.75 283.20)">Percent event free</text>
<text x="59.80" y="325.58" font-size="7.2" fill="#2b2b2b" stroke="#2b2b2b" stroke-width="0.0">p &lt; .0001</text>
<text x="232.90" y="301.88" font-size="7.2" fill="#2b2b2b" stroke="#2b2b2b" stroke-width="0.0" textLength="18.30" lengthAdjust="spacingAndGlyphs">Strata</text>
<line x1="232.60" y1="308.00" x2="237.60" y2="308.00" stroke="#1f4f8f" stroke-width="1.6"/>
<line x1="235.10" y1="306.70" x2="235.10" y2="309.30" stroke="#1f4f8f" stroke-width="0.9"/>
<text x="240.00" y="310.47" font-size="6.9" fill="#2b2b2b" stroke="#2b2b2b" stroke-width="0.0" textLength="25.30" lengthAdjust="spacingAndGlyphs">Low risk</text>
<line x1="232.60" y1="315.80" x2="237.60" y2="315.80" stroke="#3bb54a" stroke-width="1.6"/>
<line x1="235.10" y1="314.50" x2="235.10" y2="317.10" stroke="#3bb54a" stroke-width="0.9"/>
<text x="240.00" y="318.27" font-size="6.9" fill="#2b2b2b" stroke="#2b2b2b" stroke-width="0.0" textLength="50.00" lengthAdjust="spacingAndGlyphs">Intermediate risk</text>
<line x1="232.60" y1="323.70" x2="237.60" y2="323.70" stroke="#c8172f" stroke-width="1.6"/>
<line x1="235.10" y1="322.40" x2="235.10" y2="325.00" stroke="#c8172f" stroke-width="0.9"/>
<text x="240.00" y="326.17" font-size="6.9" fill="#2b2b2b" stroke="#2b2b2b" stroke-width="0.0" textLength="27.20" lengthAdjust="spacingAndGlyphs">High risk</text>
<path d="M55.30,221.20H55.70V221.89H56.38V222.71H56.81V223.53H57.59V224.44H58.20V224.97H58.50V225.30H59.15V225.61H59.93V226.33H60.37V226.55H61.26V227.74H62.09V228.31H62.41V228.36H63.01V228.69H63.88V229.51H64.27V230.06H64.65V230.36H65.22V230.43H65.73V230.68H66.14V230.61H66.96V231.23H67.73V231.66H68.61V232.66H69.36V233.01H70.01V233.36H70.38V233.35H71.18V233.52H72.03V234.38H72.58V234.26H73.15V234.53H74.04V234.93H74.36V234.87H75.09V235.83H75.69V235.74H76.32V236.20H76.75V236.30H77.39V236.59H77.80V236.46H78.30V237.22H78.81V237.22H79.30V237.09H79.64V237.74H80.40V237.86H81.11V238.46H81.95V239.12H82.50V239.44H83.37V239.65H84.20V240.03H84.73V240.15H85.55V240.55H85.89V241.19H86.66V241.39H87.46V241.53H87.92V241.94H88.47V242.17H88.81V242.47H89.65V243.32H90.40V243.26H90.85V243.77H91.46V243.86H91.78V243.62H92.58V244.35H93.41V244.54H93.97V244.74H94.78V244.87H95.40V245.10H96.16V245.21H96.87V246.15H97.18V246.03H97.87V246.48H98.52V246.32H99.06V247.03H99.91V246.79H100.26V246.90H100.58V247.28H100.96V247.73H101.66V247.49H102.28V247.88H102.88V248.04H103.28V248.18H103.80V248.76H104.43V248.55H105.16V249.42H105.92V249.67H106.23V249.56H106.57V249.91H106.97V250.03H107.42V250.21H107.91V249.94H108.45V250.34H109.29V250.71H109.89V251.15H110.76V251.23H111.42V251.81H112.16V252.46H112.64V252.49H113.26V252.67H113.60V252.99H114.48V253.07H114.97V253.73H115.34V253.24H115.68V253.89H116.44V253.93H117.11V253.90H117.80V254.47H118.41V254.67H118.95V254.77H119.28V255.05H119.73V255.41H120.52V255.74H121.09V255.63H121.62V256.01H122.30V256.61H122.65V256.42H123.25V256.82H124.08V257.19H124.76V257.45H125.46V257.80H126.18V257.97H126.63V258.31H127.16V258.32H127.95V258.89H128.85V258.58H129.33V258.99H129.87V259.09H130.50V259.30H130.98V260.10H131.73V260.07H132.09V260.56H132.82V260.33H133.32V260.84H134.03V260.86H134.90V261.18H135.35V261.68H135.74V261.68H136.16V261.74H136.63V261.72H137.49V262.04H138.05V262.31H138.52V262.13H139.05V262.36H139.47V262.96H139.79V262.95H140.65V263.12H140.96V263.07H141.28V263.24H142.00V263.19H142.31V263.50H142.66V263.43H143.24V264.01H143.76V263.63H144.53V264.38H145.15V264.06H145.56V264.45H146.19V264.55H146.98V265.25H147.83V265.58H148.14V265.48H148.49V265.82H149.24V265.99H149.65V265.64H150.44V266.30H151.11V266.44H151.89V266.62H152.35V266.80H152.83V267.16H153.67V267.05H154.01V267.46H154.71V267.44H155.18V267.49H155.50V267.89H156.21V268.21H156.60V267.94H157.46V268.50H158.01V268.77H158.74V268.87H159.09V269.18H159.52V268.76H160.03V269.25H160.71V269.20H161.43V269.64H161.83V270.01H162.61V270.28H163.32V270.01H164.09V270.71H164.71V270.90H165.59V270.83H166.45V271.52H167.23V271.15H167.74V271.75H168.41V272.08H169.09V271.91H169.95V272.48H170.78V272.54H171.68V273.10H172.45V273.50H173.28V273.53H173.63V273.68H174.03V273.92H174.82V274.07H175.20V273.97H175.75V274.56H176.07V274.73H176.50V274.49H177.35V275.08H178.19V275.37H178.56V275.31H179.12V275.79H179.88V276.13H180.57V275.93H181.13V276.12H181.72V276.15H182.35V276.40H182.67V276.72H183.32V276.82H184.06V276.91H184.96V276.82H185.49V276.66H186.19V277.19H186.84V277.60H187.26V277.14H188.00V277.69H188.59V277.26H189.11V277.90H189.71V277.76H190.24V277.97H190.90V278.14H191.72V278.33H192.24V278.07H193.01V278.59H193.87V278.34H194.68V278.97H195.03V278.62H195.71V278.64H196.50V278.87H197.21V279.02H197.64V279.03H198.24V279.50H198.67V279.56H199.18V279.62H199.70V279.40H200.08V279.38H200.80V279.76H201.17V280.14H201.87V279.65H202.60V280.17H203.17V280.19H204.04V280.24H204.73V280.53H205.24V280.41H206.00V280.73H206.57V280.74H207.01V281.00H207.32V280.95H207.89V280.74H208.54V281.10H208.90V281.09H209.29V281.37H209.79V281.12H210.22V280.99H210.63V281.13H211.31V281.72H211.74V281.28H212.36V281.38H212.90V281.91H213.32V281.94H213.95V281.61H214.39V282.04H214.75V281.83H215.40V282.41H216.01V282.44H216.31V282.26H216.81V282.80H217.32V282.83H217.64V282.71H218.48V283.09H219.12V282.83H219.98V282.96H220.86V283.65H221.59V283.65H221.99V283.61H222.69V284.00H223.22V284.22H223.55V283.94H223.60V283.98" fill="none" stroke="#1f4f8f" stroke-width="2.2" stroke-linejoin="round"/>
<path d="M189.37,276.52v2.40M182.85,275.32v2.40M82.99,238.17v2.40M109.28,249.65v2.40M76.83,235.06v2.40M167.71,270.46v2.40M131.46,258.79v2.40M96.58,244.52v2.40M120.15,254.24v2.40M201.32,278.70v2.40M128.58,257.62v2.40M172.50,272.15v2.40M162.06,268.63v2.40M136.59,260.60v2.40M150.27,264.97v2.40M118.44,253.56v2.40M91.09,242.35v2.40M140.03,261.60v2.40M108.63,249.36v2.40M112.86,251.25v2.40M89.14,241.56v2.40M209.28,279.96v2.40M128.64,257.64v2.40M91.40,242.47v2.40M63.54,228.18v2.40M93.71,243.39v2.40M201.86,278.78v2.40M113.99,251.75v2.40M168.56,270.76v2.40M96.40,244.45v2.40M165.85,269.80v2.40M132.72,259.30v2.40M180.03,274.80v2.40M145.65,263.35v2.40M120.35,254.32v2.40M104.60,247.73v2.40M156.53,267.00v2.40M195.81,277.70v2.40M172.62,272.19v2.40M137.66,260.91v2.40M112.60,251.13v2.40M205.65,279.38v2.40M198.18,278.14v2.40M82.40,237.85v2.40M170.58,271.47v2.40M185.93,275.89v2.40M170.01,271.27v2.40M217.71,281.52v2.40M203.60,279.06v2.40M98.97,245.47v2.40M223.06,282.77v2.40M112.46,251.07v2.40M121.08,254.61v2.40M219.70,281.99v2.40M85.95,239.81v2.40M123.67,255.63v2.40M161.76,268.54v2.40M103.41,247.25v2.40M102.44,246.86v2.40M189.58,276.56v2.40" fill="none" stroke="#1f4f8f" stroke-width="0.7"/>
<path d="M55.30,221.20H56.17V222.18H56.49V223.22H56.90V223.19H57.59V224.32H58.42V225.23H59.30V226.15H59.96V227.23H60.67V227.92H61.40V228.02H62.23V229.21H62.71V229.41H63.52V230.48H64.38V231.54H65.26V232.36H65.98V233.18H66.44V233.92H66.92V234.33H67.80V235.19H68.18V235.74H68.88V236.05H69.21V236.66H69.53V237.28H70.13V237.63H70.68V238.22H71.53V238.74H72.05V239.40H72.53V239.84H73.16V240.28H73.86V240.98H74.21V241.62H74.73V241.69H75.27V242.43H76.14V242.76H76.68V242.85H77.52V243.50H78.15V244.07H78.64V244.42H79.06V244.49H79.68V245.49H80.37V245.76H81.08V246.37H81.63V247.46H82.48V248.06H83.29V248.89H83.91V249.56H84.80V250.41H85.38V250.75H86.07V250.91H86.84V251.70H87.51V252.19H87.82V252.06H88.50V252.36H88.90V252.85H89.46V252.90H89.79V253.58H90.30V253.30H90.73V253.65H91.55V254.09H92.01V254.32H92.59V254.75H93.10V255.42H93.96V256.01H94.28V255.88H95.09V256.13H95.51V256.71H96.04V257.21H96.77V257.45H97.22V257.56H97.68V257.72H98.38V258.21H99.21V259.08H99.55V259.20H100.21V259.33H100.80V259.72H101.56V260.21H102.24V261.36H103.05V261.37H103.67V261.73H104.17V262.54H104.97V262.42H105.49V263.18H105.90V263.54H106.73V263.87H107.25V264.39H107.86V264.29H108.33V264.56H109.13V265.19H109.85V265.72H110.73V265.68H111.27V266.40H112.03V266.40H112.73V266.57H113.12V266.65H113.65V267.01H114.26V267.80H114.65V267.69H115.47V268.17H116.09V268.69H116.40V269.02H117.11V269.38H117.91V269.40H118.25V269.67H118.85V270.59H119.70V270.77H120.37V271.44H120.87V271.92H121.73V272.31H122.57V272.90H123.27V273.01H123.73V273.26H124.07V273.96H124.55V273.63H125.04V273.96H125.61V274.44H126.01V274.76H126.56V274.98H127.35V275.38H127.97V276.13H128.85V276.26H129.17V276.84H129.78V276.66H130.16V276.89H130.64V277.08H130.97V277.86H131.76V277.68H132.35V278.49H132.96V278.31H133.46V278.81H134.31V279.42H134.88V279.77H135.21V279.99H136.00V280.41H136.51V280.43H136.82V280.45H137.21V280.93H137.98V281.19H138.56V281.80H139.24V281.75H140.09V282.61H140.58V282.64H141.29V283.52H141.79V283.42H142.43V283.61H142.97V284.43H143.60V284.72H144.06V284.97H144.83V284.86H145.45V285.46H146.09V285.69H146.54V285.85H147.05V286.25H147.57V286.61H148.22V286.37H148.77V286.54H149.51V286.81H150.17V287.29H150.94V287.50H151.65V288.23H152.09V288.02H152.61V288.61H153.07V288.37H153.63V289.20H154.03V289.52H154.63V289.33H154.99V289.69H155.58V289.90H155.93V290.34H156.38V290.57H156.95V291.08H157.60V291.13H158.01V291.82H158.34V291.50H158.68V292.19H159.30V292.63H159.98V292.62H160.54V293.22H160.98V293.53H161.52V293.32H162.03V293.98H162.42V294.46H163.27V294.69H164.11V295.31H164.74V295.30H165.61V296.22H166.18V296.07H166.52V296.36H167.34V296.51H167.81V296.85H168.59V296.83H169.06V297.34H169.38V297.59H169.87V297.78H170.44V297.50H170.75V297.56H171.21V298.14H171.99V298.29H172.47V298.46H173.21V298.47H173.56V298.65H173.99V298.58H174.53V298.66H175.37V299.06H176.20V299.63H176.51V299.83H177.30V299.81H178.13V300.02H178.44V299.89H178.93V300.53H179.73V300.25H180.24V300.40H180.67V300.70H181.22V300.73H181.92V301.01H182.75V301.43H183.31V301.80H183.82V301.60H184.19V301.74H184.63V302.19H185.14V302.32H185.61V302.02H186.09V302.40H186.94V302.52H187.36V302.62H187.82V303.32H188.67V303.07H189.00V303.36H189.66V303.29H190.21V303.92H190.51V303.98H191.22V304.25H191.81V304.20H192.42V304.16H193.03V304.42H193.52V304.43H193.92V304.56H194.54V304.89H195.18V305.27H195.62V305.15H196.27V305.74H196.99V305.84H197.64V305.71H198.12V306.40H198.65V306.08H199.20V306.77H199.56V306.37H200.16V307.09H200.69V306.82H201.45V306.95H201.93V307.46H202.74V307.90H203.23V307.63H203.75V307.70H204.21V308.29H205.10V308.22H205.45V308.66H206.33V308.97H206.87V309.11H207.63V309.35H208.22V309.67H208.99V309.32H209.55V309.35H210.08V309.99H210.67V309.93H211.44V309.80H211.95V310.20H212.54V310.49H213.41V310.77H214.03V310.84H214.66V311.20H215.31V311.09H215.85V311.09H216.61V311.24H217.45V311.69H218.33V311.88H218.97V311.80H219.28V312.08H220.03V312.30H220.78V312.00H221.50V312.34H222.03V312.88H222.57V312.73H222.90V312.61H223.33V312.74H223.60V312.68" fill="none" stroke="#3bb54a" stroke-width="2.2" stroke-linejoin="round"/>
<path d="M73.02,239.01v2.40M72.55,238.58v2.40M179.55,299.27v2.40M218.71,310.63v2.40M182.28,300.10v2.40M143.41,283.19v2.40M79.88,244.28v2.40M187.89,301.82v2.40M79.71,244.11v2.40M70.99,237.19v2.40M142.85,282.87v2.40M200.85,305.85v2.40M109.65,264.21v2.40M201.01,305.90v2.40M113.21,265.80v2.40M218.05,310.47v2.40M180.40,299.52v2.40M201.27,305.98v2.40M221.04,311.19v2.40M193.33,303.49v2.40M90.74,252.63v2.40M143.59,283.28v2.40M148.34,285.41v2.40M177.71,298.71v2.40M96.26,255.97v2.40M153.68,287.80v2.40M105.27,261.75v2.40M88.75,251.43v2.40M132.63,277.23v2.40M191.12,302.82v2.40M149.85,286.08v2.40M116.92,267.84v2.40M95.63,255.58v2.40M117.63,268.30v2.40M124.25,272.58v2.40M103.21,260.47v2.40M109.71,264.24v2.40M95.86,255.72v2.40M106.91,262.74v2.40M169.60,296.25v2.40M161.64,292.51v2.40M161.87,292.65v2.40M211.02,308.79v2.40M168.37,295.78v2.40M79.80,244.20v2.40M125.03,273.04v2.40M144.95,283.91v2.40M181.67,299.91v2.40M145.95,284.35v2.40M73.65,239.57v2.40M136.98,279.63v2.40M166.59,295.10v2.40M188.10,301.89v2.40M132.01,276.89v2.40M93.65,254.39v2.40M63.89,229.60v2.40M141.46,282.11v2.40M182.26,300.09v2.40M76.55,241.84v2.40M144.75,283.82v2.40" fill="none" stroke="#3bb54a" stroke-width="0.7"/>
<path d="M55.30,221.20H56.72V230.85H58.10V235.31H59.15V238.37H60.13V240.33H60.74V241.84H61.39V243.25H61.81V243.96H63.00V246.72H63.96V248.78H64.75V249.41H66.02V251.37H67.14V252.85H68.61V254.61H69.84V256.22H70.87V257.74H71.62V258.36H72.54V259.87H73.59V260.76H74.70V261.71H75.29V262.39H76.59V263.61H77.12V264.08H77.56V264.62H78.59V265.98H79.35V266.47H80.07V267.15H81.33V268.62H82.01V269.19H83.27V271.07H84.58V272.38H85.58V273.99H86.64V275.28H87.22V276.01H87.68V276.23H88.11V276.98H89.26V278.48H90.55V279.42H91.54V280.03H92.76V280.36H94.24V281.24H94.85V281.42H95.76V282.03H97.19V283.32H97.83V283.18H98.81V283.69H99.81V284.46H100.48V284.48H101.87V285.01H102.65V285.58H103.95V286.06H105.10V286.21H106.27V287.49H107.37V288.17H108.09V288.95H109.34V290.20H110.35V291.30H110.87V291.67H111.63V292.34H112.95V293.39H114.40V294.64H115.42V295.87H116.08V296.49H116.99V297.28H118.18V298.07H119.00V299.25H119.55V299.79H120.18V300.22H120.77V300.60H121.63V301.13H122.80V302.39H123.96V303.44H124.97V304.32H125.70V305.17H126.20V305.59H127.54V306.54H128.80V307.75H129.87V308.45H130.62V309.14H131.35V310.14H132.12V310.56H132.99V311.68H133.91V312.44H134.59V312.96H135.09V313.35H135.78V313.87H136.73V313.61H137.64V313.80H138.67V314.20H140.01V314.36H141.35V314.70H142.83V315.57H143.27V315.87H143.98V315.91H144.54V316.44H145.04V316.59H145.87V316.92H146.59V316.87H148.00V317.83H148.59V318.28H149.99V318.41H150.41V318.85H150.97V319.16H151.88V319.54H152.91V320.27H154.21V321.27H155.26V321.99H155.81V322.31H157.15V323.51H158.02V324.29H159.10V324.57H160.45V324.69H161.25V324.92H162.47V325.25H163.21V325.33H164.69V325.58H165.23V325.29H166.48V325.73H166.92V325.53H168.12V327.06H169.11V327.89H169.96V328.79H170.70V329.12H172.01V329.33H172.87V329.21H173.61V329.53H174.50V329.31H175.81V329.67H177.27V329.78H178.36V329.81H179.43V330.20H180.90V330.13H181.78V329.80H183.10V330.04H183.92V329.87H184.36V330.08H185.83V330.34H187.01V330.33H187.71V330.06H188.77V330.03H189.82V330.67H190.82V330.88H191.29V331.30H191.85V331.65H192.59V331.96H193.82V332.50H194.80V332.69H195.59V333.50H196.28V333.32H197.22V333.63H198.49V333.69H199.95V333.77H201.22V334.31H202.61V334.29H203.77V334.96H204.90V334.57H206.32V335.08H206.84V335.00H207.33V334.55H208.60V334.93H210.05V334.88H211.02V334.69H212.05V336.93H213.16V338.54H213.78V338.53H214.98V338.27H216.28V338.48H216.92V338.48H218.05V338.66H219.52V338.74H220.82V339.34H221.84V339.34H223.12V339.53H223.60V339.68" fill="none" stroke="#c8172f" stroke-width="1.6" stroke-linejoin="round"/>
<path d="M116.80,295.93v2.40M154.80,320.50v2.40M143.01,314.37v2.40M207.74,333.60v2.40M126.79,304.69v2.40M199.37,332.76v2.40M71.82,257.68v2.40M112.22,291.65v2.40M169.15,326.90v2.40M159.46,323.39v2.40M195.88,332.15v2.40M92.67,279.20v2.40M191.23,330.09v2.40M189.82,329.46v2.40M81.93,268.12v2.40M81.41,267.50v2.40M154.72,320.44v2.40M219.57,337.84v2.40M159.75,323.43v2.40M129.04,306.65v2.40M142.08,313.97v2.40M192.12,330.48v2.40M144.63,315.08v2.40M147.03,316.11v2.40M156.37,321.83v2.40" fill="none" stroke="#c8172f" stroke-width="0.7"/>
<text x="55.00" y="384.57" font-size="6.9" fill="#2b2b2b" stroke="#2b2b2b" stroke-width="0.0" textLength="44.60" lengthAdjust="spacingAndGlyphs">Number at risk</text>
<line x1="55.10" y1="387.20" x2="55.10" y2="419.50" stroke="#3c3c3c" stroke-width="1.3"/>
<line x1="55.10" y1="416.80" x2="223.00" y2="416.80" stroke="#3c3c3c" stroke-width="1.3"/>
<line x1="95.10" y1="416.80" x2="95.10" y2="419.80" stroke="#3c3c3c" stroke-width="1.0"/>
<line x1="135.10" y1="416.80" x2="135.10" y2="419.80" stroke="#3c3c3c" stroke-width="1.0"/>
<line x1="175.10" y1="416.80" x2="175.10" y2="419.80" stroke="#3c3c3c" stroke-width="1.0"/>
<line x1="215.10" y1="416.80" x2="215.10" y2="419.80" stroke="#3c3c3c" stroke-width="1.0"/>
<text x="55.10" y="428.81" font-size="8.4" fill="#2b2b2b" stroke="#2b2b2b" stroke-width="0.0" text-anchor="middle">0</text>
<text x="95.10" y="428.81" font-size="8.4" fill="#2b2b2b" stroke="#2b2b2b" stroke-width="0.0" text-anchor="middle">2</text>
<text x="135.10" y="428.81" font-size="8.4" fill="#2b2b2b" stroke="#2b2b2b" stroke-width="0.0" text-anchor="middle">4</text>
<text x="175.10" y="428.81" font-size="8.4" fill="#2b2b2b" stroke="#2b2b2b" stroke-width="0.0" text-anchor="middle">6</text>
<text x="215.10" y="428.81" font-size="8.4" fill="#2b2b2b" stroke="#2b2b2b" stroke-width="0.0" text-anchor="middle">8</text>
<text x="101.20" y="441.50" font-size="9.0" fill="#2b2b2b" stroke="#2b2b2b" stroke-width="0.18" textLength="75.40" lengthAdjust="spacingAndGlyphs">Years (after CLL diagnosis)</text>
<text x="39.80" y="405.18" font-size="10.0" fill="#2b2b2b" stroke="#2b2b2b" stroke-width="0.1" text-anchor="middle" textLength="17.00" lengthAdjust="spacingAndGlyphs" transform="rotate(-90 39.80 401.60)">Strata</text>
<line x1="48.00" y1="392.50" x2="53.00" y2="392.50" stroke="#1f4f8f" stroke-width="1.8"/>
<text x="56.30" y="394.83" font-size="6.5" fill="#2b2b2b" stroke="#2b2b2b" stroke-width="0.0">2962</text>
<text x="95.10" y="394.83" font-size="6.5" fill="#2b2b2b" stroke="#2b2b2b" stroke-width="0.0" text-anchor="middle">1944</text>
<text x="135.10" y="394.83" font-size="6.5" fill="#2b2b2b" stroke="#2b2b2b" stroke-width="0.0" text-anchor="middle">1197</text>
<text x="175.10" y="394.83" font-size="6.5" fill="#2b2b2b" stroke="#2b2b2b" stroke-width="0.0" text-anchor="middle">645</text>
<text x="215.10" y="394.83" font-size="6.5" fill="#2b2b2b" stroke="#2b2b2b" stroke-width="0.0" text-anchor="middle">328</text>
<line x1="48.00" y1="401.40" x2="53.00" y2="401.40" stroke="#3bb54a" stroke-width="1.8"/>
<text x="56.30" y="403.73" font-size="6.5" fill="#2b2b2b" stroke="#2b2b2b" stroke-width="0.0">1410</text>
<text x="95.10" y="403.73" font-size="6.5" fill="#2b2b2b" stroke="#2b2b2b" stroke-width="0.0" text-anchor="middle">825</text>
<text x="135.10" y="403.73" font-size="6.5" fill="#2b2b2b" stroke="#2b2b2b" stroke-width="0.0" text-anchor="middle">463</text>
<text x="175.10" y="403.73" font-size="6.5" fill="#2b2b2b" stroke="#2b2b2b" stroke-width="0.0" text-anchor="middle">207</text>
<text x="215.10" y="403.73" font-size="6.5" fill="#2b2b2b" stroke="#2b2b2b" stroke-width="0.0" text-anchor="middle">99</text>
<line x1="48.00" y1="410.40" x2="53.00" y2="410.40" stroke="#c8172f" stroke-width="1.8"/>
<text x="56.30" y="412.73" font-size="6.5" fill="#2b2b2b" stroke="#2b2b2b" stroke-width="0.0">327</text>
<text x="95.10" y="412.73" font-size="6.5" fill="#2b2b2b" stroke="#2b2b2b" stroke-width="0.0" text-anchor="middle">143</text>
<text x="135.10" y="412.73" font-size="6.5" fill="#2b2b2b" stroke="#2b2b2b" stroke-width="0.0" text-anchor="middle">63</text>
<text x="175.10" y="412.73" font-size="6.5" fill="#2b2b2b" stroke="#2b2b2b" stroke-width="0.0" text-anchor="middle">25</text>
<text x="215.10" y="412.73" font-size="6.5" fill="#2b2b2b" stroke="#2b2b2b" stroke-width="0.0" text-anchor="middle">7</text>
<text x="292.10" y="226.06" font-size="10.5" fill="#111" stroke="#111" stroke-width="0.0" font-weight="bold">D</text>
<line x1="342.40" y1="218.20" x2="342.40" y2="344.10" stroke="#3c3c3c" stroke-width="1.3"/>
<line x1="339.40" y1="222.40" x2="342.40" y2="222.40" stroke="#3c3c3c" stroke-width="1.0"/>
<text x="336.10" y="225.26" font-size="8.0" fill="#2b2b2b" stroke="#2b2b2b" stroke-width="0.0" text-anchor="end" textLength="17.70" lengthAdjust="spacingAndGlyphs">1.00</text>
<line x1="339.40" y1="252.70" x2="342.40" y2="252.70" stroke="#3c3c3c" stroke-width="1.0"/>
<text x="336.10" y="255.56" font-size="8.0" fill="#2b2b2b" stroke="#2b2b2b" stroke-width="0.0" text-anchor="end" textLength="17.70" lengthAdjust="spacingAndGlyphs">0.75</text>
<line x1="339.40" y1="283.00" x2="342.40" y2="283.00" stroke="#3c3c3c" stroke-width="1.0"/>
<text x="336.10" y="285.86" font-size="8.0" fill="#2b2b2b" stroke="#2b2b2b" stroke-width="0.0" text-anchor="end" textLength="17.70" lengthAdjust="spacingAndGlyphs">0.50</text>
<line x1="339.40" y1="313.30" x2="342.40" y2="313.30" stroke="#3c3c3c" stroke-width="1.0"/>
<text x="336.10" y="316.16" font-size="8.0" fill="#2b2b2b" stroke="#2b2b2b" stroke-width="0.0" text-anchor="end" textLength="17.70" lengthAdjust="spacingAndGlyphs">0.25</text>
<line x1="339.40" y1="343.60" x2="342.40" y2="343.60" stroke="#3c3c3c" stroke-width="1.0"/>
<text x="336.10" y="346.46" font-size="8.0" fill="#2b2b2b" stroke="#2b2b2b" stroke-width="0.0" text-anchor="end" textLength="17.70" lengthAdjust="spacingAndGlyphs">0.00</text>
<line x1="342.40" y1="343.60" x2="491.60" y2="343.60" stroke="#3c3c3c" stroke-width="1.3"/>
<line x1="342.40" y1="343.60" x2="342.40" y2="346.60" stroke="#3c3c3c" stroke-width="1.0"/>
<text x="342.40" y="356.01" font-size="8.4" fill="#2b2b2b" stroke="#2b2b2b" stroke-width="0.0" text-anchor="middle">0</text>
<line x1="388.40" y1="343.60" x2="388.40" y2="346.60" stroke="#3c3c3c" stroke-width="1.0"/>
<text x="388.40" y="356.01" font-size="8.4" fill="#2b2b2b" stroke="#2b2b2b" stroke-width="0.0" text-anchor="middle">2</text>
<line x1="434.40" y1="343.60" x2="434.40" y2="346.60" stroke="#3c3c3c" stroke-width="1.0"/>
<text x="434.40" y="356.01" font-size="8.4" fill="#2b2b2b" stroke="#2b2b2b" stroke-width="0.0" text-anchor="middle">4</text>
<line x1="480.40" y1="343.60" x2="480.40" y2="346.60" stroke="#3c3c3c" stroke-width="1.0"/>
<text x="480.40" y="356.01" font-size="8.4" fill="#2b2b2b" stroke="#2b2b2b" stroke-width="0.0" text-anchor="middle">6</text>
<text x="378.80" y="368.00" font-size="9.0" fill="#2b2b2b" stroke="#2b2b2b" stroke-width="0.18" textLength="76.50" lengthAdjust="spacingAndGlyphs">Years (after CLL diagnosis)</text>
<text x="308.50" y="284.48" font-size="10.0" fill="#2b2b2b" stroke="#2b2b2b" stroke-width="0.18" text-anchor="middle" textLength="35.80" lengthAdjust="spacingAndGlyphs" transform="rotate(-90 308.50 280.90)">Percent alive</text>
<text x="348.70" y="324.28" font-size="7.2" fill="#2b2b2b" stroke="#2b2b2b" stroke-width="0.0">p &lt; .0001</text>
<path d="M342.40,222.50 L355.00,223.20 L389.60,227.80 L415.00,230.70 L440.00,234.90 L454.00,236.50 L470.00,239.00 L491.70,243.40" fill="none" stroke="#92b5dd" stroke-width="1.25" stroke-linejoin="round"/>
<path d="M342.40,222.50 L355.00,223.20 L385.00,226.80 L395.00,230.00 L415.00,234.10 L440.00,238.40 L454.30,240.40 L460.80,243.00 L469.90,246.90 L482.90,248.20 L491.70,249.90" fill="none" stroke="#3f78bd" stroke-width="1.25" stroke-linejoin="round"/>
<path d="M342.40,222.50 L344.80,225.70 L348.70,231.50 L351.00,233.50 L355.00,234.70 L360.80,236.40 L366.50,237.60 L371.20,239.30 L376.90,239.30 L378.00,244.50 L395.40,244.50 L401.10,249.70 L415.00,252.60 L424.00,256.00 L429.60,257.70 L430.50,263.00 L445.00,266.60 L447.50,270.30 L477.00,270.30 L491.70,278.00" fill="none" stroke="#1f4f8f" stroke-width="1.25" stroke-linejoin="round"/>
<path d="M342.40,222.50 L355.00,226.60 L366.50,228.30 L389.60,231.80 L415.00,238.10 L440.00,245.30 L460.00,246.90 L472.00,252.00 L490.00,254.30" fill="none" stroke="#a2dd98" stroke-width="1.25" stroke-linejoin="round"/>
<path d="M342.40,222.50 L355.00,225.50 L366.50,227.80 L378.00,232.40 L389.60,235.80 L395.40,239.30 L401.10,243.30 L406.90,245.10 L415.00,246.80 L425.00,250.00 L440.00,256.60 L453.00,256.60 L458.20,260.50 L466.00,264.40 L479.00,269.60 L491.70,271.80" fill="none" stroke="#52c050" stroke-width="1.25" stroke-linejoin="round"/>
<path d="M342.40,222.50 L349.00,227.00 L361.90,233.50 L375.80,233.50 L376.90,237.00 L385.00,237.00 L389.60,239.30 L394.20,243.90 L398.80,246.20 L408.00,246.80 L415.00,250.30 L430.00,256.00 L440.00,259.60 L443.90,264.00 L455.60,264.00 L458.20,273.50 L466.00,275.50 L479.00,277.40 L481.60,284.50 L486.80,288.40 L491.70,288.70" fill="none" stroke="#2ea836" stroke-width="1.25" stroke-linejoin="round"/>
<path d="M342.40,222.50 L355.00,229.50 L366.50,231.20 L372.00,231.50 L378.00,233.50 L389.60,239.30 L395.40,243.30 L401.10,246.20 L406.90,247.00 L415.00,249.10 L430.00,257.00 L440.00,264.00 L447.80,267.70 L456.90,269.00 L468.60,273.50 L476.40,276.10 L490.00,277.40" fill="none" stroke="#f09aa8" stroke-width="1.25" stroke-linejoin="round"/>
<path d="M342.40,222.50 L348.00,227.00 L355.00,230.00 L360.80,232.40 L366.50,234.70 L372.30,240.50 L376.90,246.20 L383.80,247.40 L389.60,250.30 L395.40,252.00 L401.10,253.10 L406.90,255.40 L415.00,260.00 L433.40,265.60 L445.00,270.70 L453.00,276.80 L459.50,282.00 L471.20,283.00 L482.90,283.90 L488.00,289.70 L491.70,291.00" fill="none" stroke="#e0566a" stroke-width="1.25" stroke-linejoin="round"/>
<path d="M342.40,222.50 L350.00,223.50 L355.00,225.50 L364.20,231.20 L372.30,238.10 L376.90,240.50 L379.20,245.10 L383.80,245.60 L389.60,249.10 L395.40,250.30 L401.10,251.40 L405.80,253.70 L410.40,257.80 L415.00,258.90 L428.80,259.80 L429.40,263.80 L433.40,267.30 L439.20,269.60 L447.80,274.20 L453.00,278.00 L459.50,283.20 L472.50,283.90 L479.00,293.60 L481.60,298.20 L484.20,298.20 L491.70,311.80" fill="none" stroke="#c8172f" stroke-width="1.25" stroke-linejoin="round"/>
<text x="408.90" y="278.90" font-size="6.7" fill="#2b2b2b" stroke="#2b2b2b" stroke-width="0.0" textLength="15.70" lengthAdjust="spacingAndGlyphs">Strata</text>
<line x1="408.90" y1="284.90" x2="413.00" y2="284.90" stroke="#92b5dd" stroke-width="1.5"/>
<text x="415.80" y="287.19" font-size="6.4" fill="#2b2b2b" stroke="#2b2b2b" stroke-width="0.0" textLength="39.34" lengthAdjust="spacingAndGlyphs">CI low - IPI low</text>
<line x1="408.90" y1="291.25" x2="413.00" y2="291.25" stroke="#3f78bd" stroke-width="1.5"/>
<text x="415.80" y="293.54" font-size="6.4" fill="#2b2b2b" stroke="#2b2b2b" stroke-width="0.0" textLength="41.97" lengthAdjust="spacingAndGlyphs">CI low - IPI inter</text>
<line x1="408.90" y1="297.60" x2="413.00" y2="297.60" stroke="#1f4f8f" stroke-width="1.5"/>
<text x="415.80" y="299.89" font-size="6.4" fill="#2b2b2b" stroke="#2b2b2b" stroke-width="0.0" textLength="41.64" lengthAdjust="spacingAndGlyphs">CI low - IPI high</text>
<line x1="408.90" y1="303.95" x2="413.00" y2="303.95" stroke="#a2dd98" stroke-width="1.5"/>
<text x="415.80" y="306.24" font-size="6.4" fill="#2b2b2b" stroke="#2b2b2b" stroke-width="0.0" textLength="41.97" lengthAdjust="spacingAndGlyphs">CI inter - IPI low</text>
<line x1="408.90" y1="310.30" x2="413.00" y2="310.30" stroke="#52c050" stroke-width="1.5"/>
<text x="415.80" y="312.59" font-size="6.4" fill="#2b2b2b" stroke="#2b2b2b" stroke-width="0.0" textLength="44.59" lengthAdjust="spacingAndGlyphs">CI inter - IPI inter</text>
<line x1="408.90" y1="316.65" x2="413.00" y2="316.65" stroke="#2ea836" stroke-width="1.5"/>
<text x="415.80" y="318.94" font-size="6.4" fill="#2b2b2b" stroke="#2b2b2b" stroke-width="0.0" textLength="44.27" lengthAdjust="spacingAndGlyphs">CI inter - IPI high</text>
<line x1="408.90" y1="323.00" x2="413.00" y2="323.00" stroke="#f09aa8" stroke-width="1.5"/>
<text x="415.80" y="325.29" font-size="6.4" fill="#2b2b2b" stroke="#2b2b2b" stroke-width="0.0" textLength="41.64" lengthAdjust="spacingAndGlyphs">CI high - IPI low</text>
<line x1="408.90" y1="329.35" x2="413.00" y2="329.35" stroke="#e0566a" stroke-width="1.5"/>
<text x="415.80" y="331.64" font-size="6.4" fill="#2b2b2b" stroke="#2b2b2b" stroke-width="0.0" textLength="44.27" lengthAdjust="spacingAndGlyphs">CI high - IPI inter</text>
<line x1="408.90" y1="335.70" x2="413.00" y2="335.70" stroke="#c8172f" stroke-width="1.5"/>
<text x="415.80" y="337.99" font-size="6.4" fill="#2b2b2b" stroke="#2b2b2b" stroke-width="0.0" textLength="43.94" lengthAdjust="spacingAndGlyphs">CI high - IPI high</text>
<text x="342.90" y="376.27" font-size="6.9" fill="#2b2b2b" stroke="#2b2b2b" stroke-width="0.0" textLength="44.40" lengthAdjust="spacingAndGlyphs">Number at risk</text>
<line x1="342.30" y1="380.40" x2="342.30" y2="429.50" stroke="#3c3c3c" stroke-width="1.3"/>
<line x1="342.30" y1="426.70" x2="492.00" y2="426.70" stroke="#3c3c3c" stroke-width="1.3"/>
<line x1="388.40" y1="426.70" x2="388.40" y2="429.70" stroke="#3c3c3c" stroke-width="1.0"/>
<line x1="434.40" y1="426.70" x2="434.40" y2="429.70" stroke="#3c3c3c" stroke-width="1.0"/>
<line x1="480.40" y1="426.70" x2="480.40" y2="429.70" stroke="#3c3c3c" stroke-width="1.0"/>
<text x="342.40" y="439.21" font-size="8.4" fill="#2b2b2b" stroke="#2b2b2b" stroke-width="0.0" text-anchor="middle">0</text>
<text x="388.40" y="439.21" font-size="8.4" fill="#2b2b2b" stroke="#2b2b2b" stroke-width="0.0" text-anchor="middle">2</text>
<text x="434.40" y="439.21" font-size="8.4" fill="#2b2b2b" stroke="#2b2b2b" stroke-width="0.0" text-anchor="middle">4</text>
<text x="480.40" y="439.21" font-size="8.4" fill="#2b2b2b" stroke="#2b2b2b" stroke-width="0.0" text-anchor="middle">6</text>
<text x="378.80" y="448.40" font-size="9.0" fill="#2b2b2b" stroke="#2b2b2b" stroke-width="0.18" textLength="76.80" lengthAdjust="spacingAndGlyphs">Years (after CLL diagnosis)</text>
<text x="328.00" y="407.98" font-size="10.0" fill="#2b2b2b" stroke="#2b2b2b" stroke-width="0.1" text-anchor="middle" textLength="18.00" lengthAdjust="spacingAndGlyphs" transform="rotate(-90 328.00 404.40)">Strata</text>
<line x1="335.50" y1="383.60" x2="339.00" y2="383.60" stroke="#92b5dd" stroke-width="1.4"/>
<text x="350.30" y="385.96" font-size="6.6" fill="#2b2b2b" stroke="#2b2b2b" stroke-width="0.0" text-anchor="middle">1150</text>
<text x="389.30" y="385.96" font-size="6.6" fill="#2b2b2b" stroke="#2b2b2b" stroke-width="0.0" text-anchor="middle">980</text>
<text x="434.30" y="385.96" font-size="6.6" fill="#2b2b2b" stroke="#2b2b2b" stroke-width="0.0" text-anchor="middle">718</text>
<text x="480.00" y="385.96" font-size="6.6" fill="#2b2b2b" stroke="#2b2b2b" stroke-width="0.0" text-anchor="middle">457</text>
<line x1="335.50" y1="388.68" x2="339.00" y2="388.68" stroke="#3f78bd" stroke-width="1.4"/>
<text x="350.30" y="391.04" font-size="6.6" fill="#2b2b2b" stroke="#2b2b2b" stroke-width="0.0" text-anchor="middle">419</text>
<text x="389.30" y="391.04" font-size="6.6" fill="#2b2b2b" stroke="#2b2b2b" stroke-width="0.0" text-anchor="middle">337</text>
<text x="434.30" y="391.04" font-size="6.6" fill="#2b2b2b" stroke="#2b2b2b" stroke-width="0.0" text-anchor="middle">237</text>
<text x="480.00" y="391.04" font-size="6.6" fill="#2b2b2b" stroke="#2b2b2b" stroke-width="0.0" text-anchor="middle">139</text>
<line x1="335.50" y1="393.76" x2="339.00" y2="393.76" stroke="#1f4f8f" stroke-width="1.4"/>
<text x="350.30" y="396.12" font-size="6.6" fill="#2b2b2b" stroke="#2b2b2b" stroke-width="0.0" text-anchor="middle">61</text>
<text x="389.30" y="396.12" font-size="6.6" fill="#2b2b2b" stroke="#2b2b2b" stroke-width="0.0" text-anchor="middle">43</text>
<text x="434.30" y="396.12" font-size="6.6" fill="#2b2b2b" stroke="#2b2b2b" stroke-width="0.0" text-anchor="middle">28</text>
<text x="480.00" y="396.12" font-size="6.6" fill="#2b2b2b" stroke="#2b2b2b" stroke-width="0.0" text-anchor="middle">13</text>
<line x1="335.50" y1="398.84" x2="339.00" y2="398.84" stroke="#a2dd98" stroke-width="1.4"/>
<text x="350.30" y="401.20" font-size="6.6" fill="#2b2b2b" stroke="#2b2b2b" stroke-width="0.0" text-anchor="middle">509</text>
<text x="389.30" y="401.20" font-size="6.6" fill="#2b2b2b" stroke="#2b2b2b" stroke-width="0.0" text-anchor="middle">404</text>
<text x="434.30" y="401.20" font-size="6.6" fill="#2b2b2b" stroke="#2b2b2b" stroke-width="0.0" text-anchor="middle">284</text>
<text x="480.00" y="401.20" font-size="6.6" fill="#2b2b2b" stroke="#2b2b2b" stroke-width="0.0" text-anchor="middle">171</text>
<line x1="335.50" y1="403.92" x2="339.00" y2="403.92" stroke="#52c050" stroke-width="1.4"/>
<text x="350.30" y="406.28" font-size="6.6" fill="#2b2b2b" stroke="#2b2b2b" stroke-width="0.0" text-anchor="middle">269</text>
<text x="389.30" y="406.28" font-size="6.6" fill="#2b2b2b" stroke="#2b2b2b" stroke-width="0.0" text-anchor="middle">214</text>
<text x="434.30" y="406.28" font-size="6.6" fill="#2b2b2b" stroke="#2b2b2b" stroke-width="0.0" text-anchor="middle">146</text>
<text x="480.00" y="406.28" font-size="6.6" fill="#2b2b2b" stroke="#2b2b2b" stroke-width="0.0" text-anchor="middle">80</text>
<line x1="335.50" y1="409.00" x2="339.00" y2="409.00" stroke="#2ea836" stroke-width="1.4"/>
<text x="350.30" y="411.36" font-size="6.6" fill="#2b2b2b" stroke="#2b2b2b" stroke-width="0.0" text-anchor="middle">73</text>
<text x="389.30" y="411.36" font-size="6.6" fill="#2b2b2b" stroke="#2b2b2b" stroke-width="0.0" text-anchor="middle">56</text>
<text x="434.30" y="411.36" font-size="6.6" fill="#2b2b2b" stroke="#2b2b2b" stroke-width="0.0" text-anchor="middle">40</text>
<text x="480.00" y="411.36" font-size="6.6" fill="#2b2b2b" stroke="#2b2b2b" stroke-width="0.0" text-anchor="middle">22</text>
<line x1="335.50" y1="414.08" x2="339.00" y2="414.08" stroke="#f09aa8" stroke-width="1.4"/>
<text x="350.30" y="416.44" font-size="6.6" fill="#2b2b2b" stroke="#2b2b2b" stroke-width="0.0" text-anchor="middle">237</text>
<text x="389.30" y="416.44" font-size="6.6" fill="#2b2b2b" stroke="#2b2b2b" stroke-width="0.0" text-anchor="middle">177</text>
<text x="434.30" y="416.44" font-size="6.6" fill="#2b2b2b" stroke="#2b2b2b" stroke-width="0.0" text-anchor="middle">107</text>
<text x="480.00" y="416.44" font-size="6.6" fill="#2b2b2b" stroke="#2b2b2b" stroke-width="0.0" text-anchor="middle">59</text>
<line x1="335.50" y1="419.16" x2="339.00" y2="419.16" stroke="#e0566a" stroke-width="1.4"/>
<text x="350.30" y="421.52" font-size="6.6" fill="#2b2b2b" stroke="#2b2b2b" stroke-width="0.0" text-anchor="middle">135</text>
<text x="389.30" y="421.52" font-size="6.6" fill="#2b2b2b" stroke="#2b2b2b" stroke-width="0.0" text-anchor="middle">95</text>
<text x="434.30" y="421.52" font-size="6.6" fill="#2b2b2b" stroke="#2b2b2b" stroke-width="0.0" text-anchor="middle">62</text>
<text x="480.00" y="421.52" font-size="6.6" fill="#2b2b2b" stroke="#2b2b2b" stroke-width="0.0" text-anchor="middle">29</text>
<line x1="335.50" y1="424.24" x2="339.00" y2="424.24" stroke="#c8172f" stroke-width="1.4"/>
<text x="350.30" y="426.60" font-size="6.6" fill="#2b2b2b" stroke="#2b2b2b" stroke-width="0.0" text-anchor="middle">53</text>
<text x="389.30" y="426.60" font-size="6.6" fill="#2b2b2b" stroke="#2b2b2b" stroke-width="0.0" text-anchor="middle">40</text>
<text x="434.30" y="426.60" font-size="6.6" fill="#2b2b2b" stroke="#2b2b2b" stroke-width="0.0" text-anchor="middle">27</text>
<text x="480.00" y="426.60" font-size="6.6" fill="#2b2b2b" stroke="#2b2b2b" stroke-width="0.0" text-anchor="middle">9</text>
<text x="6.90" y="472.66" font-size="10.5" fill="#111" stroke="#111" stroke-width="0.0" font-weight="bold">E</text>
<line x1="55.30" y1="463.70" x2="55.30" y2="583.40" stroke="#3c3c3c" stroke-width="1.3"/>
<line x1="52.30" y1="467.60" x2="55.30" y2="467.60" stroke="#3c3c3c" stroke-width="1.0"/>
<text x="49.00" y="470.46" font-size="8.0" fill="#2b2b2b" stroke="#2b2b2b" stroke-width="0.0" text-anchor="end" textLength="14.50" lengthAdjust="spacingAndGlyphs">1.00</text>
<line x1="52.30" y1="496.40" x2="55.30" y2="496.40" stroke="#3c3c3c" stroke-width="1.0"/>
<text x="49.00" y="499.26" font-size="8.0" fill="#2b2b2b" stroke="#2b2b2b" stroke-width="0.0" text-anchor="end" textLength="14.50" lengthAdjust="spacingAndGlyphs">0.75</text>
<line x1="52.30" y1="525.30" x2="55.30" y2="525.30" stroke="#3c3c3c" stroke-width="1.0"/>
<text x="49.00" y="528.16" font-size="8.0" fill="#2b2b2b" stroke="#2b2b2b" stroke-width="0.0" text-anchor="end" textLength="14.50" lengthAdjust="spacingAndGlyphs">0.50</text>
<line x1="52.30" y1="554.10" x2="55.30" y2="554.10" stroke="#3c3c3c" stroke-width="1.0"/>
<text x="49.00" y="556.96" font-size="8.0" fill="#2b2b2b" stroke="#2b2b2b" stroke-width="0.0" text-anchor="end" textLength="14.50" lengthAdjust="spacingAndGlyphs">0.25</text>
<line x1="52.30" y1="582.90" x2="55.30" y2="582.90" stroke="#3c3c3c" stroke-width="1.0"/>
<text x="49.00" y="585.76" font-size="8.0" fill="#2b2b2b" stroke="#2b2b2b" stroke-width="0.0" text-anchor="end" textLength="14.50" lengthAdjust="spacingAndGlyphs">0.00</text>
<line x1="55.30" y1="582.90" x2="223.00" y2="582.90" stroke="#3c3c3c" stroke-width="1.3"/>
<line x1="55.10" y1="582.90" x2="55.10" y2="585.90" stroke="#3c3c3c" stroke-width="1.0"/>
<text x="55.10" y="595.01" font-size="8.4" fill="#2b2b2b" stroke="#2b2b2b" stroke-width="0.0" text-anchor="middle">0</text>
<line x1="95.10" y1="582.90" x2="95.10" y2="585.90" stroke="#3c3c3c" stroke-width="1.0"/>
<text x="95.10" y="595.01" font-size="8.4" fill="#2b2b2b" stroke="#2b2b2b" stroke-width="0.0" text-anchor="middle">2</text>
<line x1="135.10" y1="582.90" x2="135.10" y2="585.90" stroke="#3c3c3c" stroke-width="1.0"/>
<text x="135.10" y="595.01" font-size="8.4" fill="#2b2b2b" stroke="#2b2b2b" stroke-width="0.0" text-anchor="middle">4</text>
<line x1="175.10" y1="582.90" x2="175.10" y2="585.90" stroke="#3c3c3c" stroke-width="1.0"/>
<text x="175.10" y="595.01" font-size="8.4" fill="#2b2b2b" stroke="#2b2b2b" stroke-width="0.0" text-anchor="middle">6</text>
<line x1="215.10" y1="582.90" x2="215.10" y2="585.90" stroke="#3c3c3c" stroke-width="1.0"/>
<text x="215.10" y="595.01" font-size="8.4" fill="#2b2b2b" stroke="#2b2b2b" stroke-width="0.0" text-anchor="middle">8</text>
<text x="98.80" y="607.40" font-size="9.0" fill="#2b2b2b" stroke="#2b2b2b" stroke-width="0.18" textLength="80.10" lengthAdjust="spacingAndGlyphs">Years (after treatment start)</text>
<text x="24.80" y="527.48" font-size="10.0" fill="#2b2b2b" stroke="#2b2b2b" stroke-width="0.18" text-anchor="middle" textLength="36.50" lengthAdjust="spacingAndGlyphs" transform="rotate(-90 24.80 523.90)">Percent alive</text>
<text x="59.80" y="572.38" font-size="7.2" fill="#2b2b2b" stroke="#2b2b2b" stroke-width="0.0">p &lt; .0001</text>
<text x="232.70" y="551.78" font-size="7.2" fill="#2b2b2b" stroke="#2b2b2b" stroke-width="0.0" textLength="18.40" lengthAdjust="spacingAndGlyphs">Strata</text>
<line x1="232.40" y1="557.90" x2="237.40" y2="557.90" stroke="#1f4f8f" stroke-width="1.6"/>
<line x1="234.90" y1="556.60" x2="234.90" y2="559.20" stroke="#1f4f8f" stroke-width="0.9"/>
<text x="239.80" y="560.37" font-size="6.9" fill="#2b2b2b" stroke="#2b2b2b" stroke-width="0.0" textLength="25.30" lengthAdjust="spacingAndGlyphs">Low risk</text>
<line x1="232.40" y1="565.60" x2="237.40" y2="565.60" stroke="#3bb54a" stroke-width="1.6"/>
<line x1="234.90" y1="564.30" x2="234.90" y2="566.90" stroke="#3bb54a" stroke-width="0.9"/>
<text x="239.80" y="568.07" font-size="6.9" fill="#2b2b2b" stroke="#2b2b2b" stroke-width="0.0" textLength="50.20" lengthAdjust="spacingAndGlyphs">Intermediate risk</text>
<line x1="232.40" y1="573.30" x2="237.40" y2="573.30" stroke="#c8172f" stroke-width="1.6"/>
<line x1="234.90" y1="572.00" x2="234.90" y2="574.60" stroke="#c8172f" stroke-width="0.9"/>
<text x="239.80" y="575.77" font-size="6.9" fill="#2b2b2b" stroke="#2b2b2b" stroke-width="0.0" textLength="27.20" lengthAdjust="spacingAndGlyphs">High risk</text>
<path d="M55.30,467.60H55.75V467.73H56.14V468.17H56.58V468.42H57.44V469.17H58.32V470.28H58.95V470.84H59.60V471.30H60.50V472.23H61.39V473.43H61.70V473.34H62.29V474.31H62.70V474.58H63.22V475.22H64.07V476.06H64.49V476.47H65.05V476.82H65.63V477.09H66.53V477.39H67.32V477.70H67.98V477.51H68.87V478.06H69.18V478.17H69.73V478.19H70.60V478.40H71.45V478.97H71.85V478.97H72.42V478.98H73.18V479.59H74.07V479.99H74.84V480.31H75.70V480.28H76.33V480.35H77.11V480.83H77.91V480.97H78.23V480.75H78.58V480.95H79.23V481.10H80.04V481.07H80.78V481.51H81.21V481.89H81.54V481.61H82.16V481.86H83.05V482.05H83.88V482.09H84.47V482.19H85.16V482.62H85.93V482.67H86.51V483.47H86.81V483.37H87.52V483.66H88.15V483.73H89.03V483.88H89.75V484.40H90.49V484.53H90.80V484.85H91.27V485.01H92.16V485.32H92.70V485.57H93.23V485.38H93.87V485.88H94.59V486.13H95.13V486.51H95.63V486.64H95.93V486.44H96.75V486.87H97.30V487.00H98.06V487.54H98.39V487.65H99.24V488.38H99.55V488.65H99.89V488.48H100.51V488.97H100.89V489.17H101.36V489.32H102.21V489.60H102.52V489.79H103.08V490.09H103.85V490.00H104.49V490.67H105.34V491.00H106.01V491.34H106.41V491.55H107.06V491.62H107.45V491.68H108.00V491.65H108.86V492.40H109.44V492.06H110.33V492.41H110.93V492.93H111.74V493.28H112.41V493.42H113.29V493.94H113.81V494.11H114.68V494.20H115.03V494.03H115.91V494.44H116.69V494.70H117.12V494.83H117.91V495.06H118.50V495.77H119.11V495.42H119.42V496.11H119.90V495.75H120.52V496.46H121.00V496.18H121.41V496.56H122.18V496.56H122.94V497.24H123.57V497.26H123.89V497.45H124.44V497.77H124.77V497.54H125.09V497.88H125.42V498.05H125.98V498.13H126.40V498.71H126.99V498.37H127.63V499.09H128.22V499.42H129.03V499.59H129.34V499.52H129.95V499.60H130.55V500.19H131.30V500.55H132.05V500.53H132.72V500.94H133.47V500.97H133.88V501.55H134.61V501.50H135.37V502.19H136.06V502.24H136.40V502.22H137.15V503.01H137.55V502.54H138.06V503.38H138.49V503.54H139.26V503.79H140.16V504.03H140.58V504.03H141.11V504.40H141.63V504.65H141.94V504.42H142.38V504.54H143.13V505.30H143.48V505.14H143.79V505.09H144.18V505.54H144.98V505.93H145.44V505.79H145.88V506.12H146.32V506.34H146.90V506.40H147.72V506.95H148.18V506.97H148.65V506.64H149.46V507.05H149.93V507.58H150.74V507.64H151.47V507.90H151.78V508.12H152.18V508.02H152.73V508.52H153.16V508.37H153.80V508.64H154.44V509.14H154.92V509.47H155.80V509.18H156.14V509.35H156.74V509.69H157.47V510.43H158.05V510.14H158.48V510.73H159.27V510.98H160.17V510.91H160.92V511.01H161.30V511.35H161.82V511.37H162.46V511.32H162.78V511.75H163.53V511.95H164.03V511.77H164.71V511.97H165.45V512.25H166.07V512.64H166.44V512.28H167.05V512.88H167.91V513.11H168.32V512.82H168.77V512.87H169.18V512.92H169.97V513.37H170.85V513.66H171.61V514.06H172.24V513.72H172.78V514.01H173.18V514.25H173.94V514.60H174.26V514.65H174.78V515.06H175.35V515.98H175.79V515.83H176.46V516.14H177.28V516.89H177.59V516.54H178.37V516.44H179.00V517.12H179.88V516.86H180.73V517.31H181.47V517.20H181.80V517.45H182.69V517.47H183.58V518.15H184.17V517.90H185.03V517.77H185.68V518.01H186.43V518.38H187.09V518.46H187.92V519.08H188.23V519.01H188.66V519.43H189.51V519.66H190.21V520.00H190.66V519.75H191.51V520.32H191.98V520.63H192.68V520.31H193.54V521.15H194.28V520.97H194.59V521.09H195.35V521.35H195.82V521.73H196.37V521.90H196.73V522.20H197.07V522.25H197.54V522.21H197.89V522.80H198.24V522.77H198.91V523.31H199.57V523.47H200.40V523.32H200.73V523.93H201.19V523.84H201.68V523.77H202.22V524.16H203.01V524.24H203.37V524.62H204.19V524.75H204.67V525.22H205.47V524.88H205.83V525.39H206.37V525.49H206.92V525.40H207.68V526.18H208.35V525.98H209.06V526.20H209.43V526.53H210.08V526.94H210.62V526.58H211.27V526.73H211.73V527.52H212.25V527.26H213.13V527.35H213.89V528.04H214.74V527.91H215.31V528.35H215.62V528.35H216.00V528.47H216.72V529.26H217.26V529.59H218.06V529.99H218.48V529.85H218.87V529.82H219.76V530.61H220.46V530.93H220.93V530.78H221.40V531.29H221.74V531.34H222.58V531.61H223.23V532.17H223.60V532.47" fill="none" stroke="#1f4f8f" stroke-width="2.2" stroke-linejoin="round"/>
<path d="M125.37,496.81v2.40M223.40,531.11v2.40M187.12,517.34v2.40M129.77,498.56v2.40M198.69,521.74v2.40M186.76,517.25v2.40M220.89,529.91v2.40M130.05,498.67v2.40M91.77,483.79v2.40M140.59,502.88v2.40M166.37,511.27v2.40M131.82,499.38v2.40M74.70,478.72v2.40M140.93,503.01v2.40M66.51,475.96v2.40M66.77,476.06v2.40M171.50,512.53v2.40M99.73,487.22v2.40M208.53,524.98v2.40M206.62,524.37v2.40M183.12,516.52v2.40M77.71,479.48v2.40M95.95,485.51v2.40M140.83,502.97v2.40M151.79,506.89v2.40M134.57,500.48v2.40M58.50,469.10v2.40M86.94,482.10v2.40M211.30,525.86v2.40M126.14,497.11v2.40M142.97,503.78v2.40M210.31,525.54v2.40M96.66,485.83v2.40M125.85,497.00v2.40M166.23,511.23v2.40M100.45,487.54v2.40M128.00,497.86v2.40M184.60,516.82v2.40M190.31,518.56v2.40M180.16,515.93v2.40M189.88,518.39v2.40M60.40,471.00v2.40M70.70,477.51v2.40M156.50,508.55v2.40M180.04,515.91v2.40M66.99,476.15v2.40M126.10,497.10v2.40M150.67,506.49v2.40M116.17,493.53v2.40M61.79,472.39v2.40M148.51,505.73v2.40M153.53,507.50v2.40M151.68,506.85v2.40M87.46,482.28v2.40M110.04,491.37v2.40M63.81,474.41v2.40M146.68,505.08v2.40M93.51,484.40v2.40M140.53,502.85v2.40M207.00,524.49v2.40" fill="none" stroke="#1f4f8f" stroke-width="0.7"/>
<path d="M55.30,467.60H56.19V468.18H56.92V469.21H57.79V470.02H58.64V470.70H59.54V471.77H59.95V472.14H60.62V472.60H61.16V473.11H61.50V473.57H61.94V474.08H62.70V474.94H63.52V476.10H64.36V476.97H65.00V477.26H65.83V477.67H66.21V477.89H66.83V478.02H67.19V478.24H67.91V479.12H68.60V479.27H68.92V479.16H69.61V479.97H70.18V480.13H70.56V480.40H70.94V480.96H71.42V481.27H71.98V481.66H72.72V482.35H73.11V482.75H73.93V483.23H74.50V483.67H75.29V483.56H76.00V484.34H76.75V484.75H77.37V484.90H77.71V485.07H78.10V485.31H78.94V485.48H79.28V485.50H79.89V486.07H80.64V486.97H81.24V487.49H81.63V487.65H81.96V487.97H82.73V488.31H83.44V489.46H83.94V489.26H84.39V489.89H84.74V490.01H85.20V490.20H86.03V490.63H86.44V490.61H86.93V491.05H87.41V490.77H87.95V490.95H88.39V491.58H88.88V491.43H89.74V491.87H90.52V492.51H91.16V492.76H91.80V493.19H92.52V493.10H93.21V493.58H94.07V493.67H94.64V494.50H94.98V494.48H95.82V494.74H96.15V495.00H96.61V495.01H97.40V495.20H97.85V495.25H98.35V495.45H99.07V496.26H99.40V496.18H100.18V496.68H100.64V496.70H101.35V496.99H102.25V497.64H103.13V497.46H103.44V497.91H104.09V497.96H104.53V498.51H105.31V498.33H105.69V499.04H106.24V498.95H107.11V499.56H107.46V499.81H108.00V500.28H108.76V500.31H109.34V501.21H109.93V501.53H110.77V501.94H111.46V501.84H112.35V502.48H112.84V502.89H113.46V503.42H114.08V503.88H114.85V504.12H115.32V504.37H115.92V504.79H116.38V505.04H117.11V504.97H117.97V505.61H118.54V505.79H119.07V506.38H119.92V506.57H120.54V506.87H120.92V507.35H121.47V507.02H121.91V507.43H122.68V507.73H123.08V508.43H123.56V508.69H123.86V508.25H124.29V508.67H124.91V508.92H125.79V509.75H126.43V510.07H127.25V510.43H127.90V510.11H128.54V510.36H129.09V511.27H129.62V511.29H130.49V511.70H131.02V511.81H131.40V512.16H132.09V512.15H132.65V512.77H132.98V512.48H133.65V513.18H134.28V513.35H134.58V513.45H135.22V513.39H135.83V513.79H136.34V514.40H137.14V514.21H137.49V514.81H138.35V515.19H138.85V515.50H139.70V515.40H140.02V515.81H140.75V516.20H141.34V516.21H141.74V516.31H142.31V516.70H142.96V517.10H143.46V517.50H143.96V517.49H144.53V517.89H145.42V518.27H145.72V518.40H146.33V518.57H146.65V518.26H146.96V518.45H147.33V519.01H148.09V519.10H148.52V519.30H148.89V519.31H149.46V519.99H150.19V519.74H150.97V520.65H151.80V520.42H152.46V521.22H152.91V521.14H153.59V521.68H154.38V521.66H155.04V521.73H155.83V522.08H156.53V522.28H157.26V523.04H157.63V522.91H158.02V523.15H158.47V523.61H159.27V523.32H159.71V523.61H160.09V523.94H160.83V524.14H161.43V524.12H162.01V524.79H162.35V524.47H162.97V524.87H163.38V525.19H164.28V525.30H165.17V525.92H165.92V525.72H166.55V526.38H167.36V526.33H167.81V526.33H168.35V526.88H168.89V526.87H169.31V526.96H169.71V526.87H170.13V527.54H170.82V528.23H171.36V528.59H172.22V528.81H172.85V529.44H173.72V530.06H174.22V530.60H174.97V531.41H175.30V531.52H175.81V531.69H176.13V532.16H176.91V533.15H177.35V532.98H178.03V533.72H178.55V533.83H179.35V534.61H179.82V535.07H180.18V535.21H180.55V535.15H181.23V535.51H182.11V535.58H182.47V535.59H182.93V535.36H183.63V535.52H184.46V535.75H184.86V535.53H185.19V536.24H186.04V536.55H186.89V537.37H187.63V537.86H188.37V538.01H189.06V538.79H189.59V539.00H190.28V539.91H190.97V539.93H191.30V540.59H192.00V540.71H192.32V541.41H193.22V541.83H193.89V541.56H194.38V541.95H194.94V542.64H195.80V542.51H196.42V543.30H197.32V543.47H197.74V543.77H198.09V543.98H198.91V544.44H199.66V544.31H200.27V544.62H200.60V545.17H200.94V545.10H201.42V545.18H201.93V545.28H202.79V545.05H203.50V545.43H204.35V545.42H205.22V545.75H205.54V545.49H206.15V545.89H207.00V545.95H207.82V546.13H208.36V546.43H209.04V546.06H209.58V546.08H210.39V546.77H211.28V546.61H211.73V546.79H212.40V547.10H212.92V547.10H213.49V546.97H214.23V547.04H214.55V546.87H215.26V547.50H215.78V547.51H216.56V547.77H216.95V547.88H217.60V548.34H218.17V548.95H218.48V548.91H218.96V548.84H219.41V548.98H219.73V548.98H220.29V549.82H220.62V549.75H221.09V549.77H221.52V550.09H222.00V550.09H222.39V550.37H223.15V550.52H223.60V550.72" fill="none" stroke="#3bb54a" stroke-width="2.1" stroke-linejoin="round"/>
<path d="M132.56,511.29v2.40M101.24,495.73v2.40M188.08,536.89v2.40M76.58,483.19v2.40M187.08,536.14v2.40M64.99,475.94v2.40M168.99,525.70v2.40M104.47,497.08v2.40M124.01,507.41v2.40M91.01,491.40v2.40M120.78,505.81v2.40M162.47,523.50v2.40M162.74,523.59v2.40M167.24,525.11v2.40M94.28,492.83v2.40M143.34,516.07v2.40M200.33,543.63v2.40M136.77,513.19v2.40M197.04,542.12v2.40M190.14,538.42v2.40M73.79,481.71v2.40M146.39,517.29v2.40M120.92,505.88v2.40M176.44,531.23v2.40M65.49,476.24v2.40M175.87,530.78v2.40M217.06,546.94v2.40M201.04,543.85v2.40M219.76,548.08v2.40M81.56,486.43v2.40M124.84,507.81v2.40M112.34,501.41v2.40M174.57,529.77v2.40M77.05,483.42v2.40M220.91,548.57v2.40M126.22,508.43v2.40M105.55,497.61v2.40M165.72,524.59v2.40M161.78,523.27v2.40M191.82,539.66v2.40M108.56,499.29v2.40M161.34,523.12v2.40M130.64,510.42v2.40M124.84,507.81v2.40M159.42,522.48v2.40M210.69,545.31v2.40M63.01,474.11v2.40M215.87,546.44v2.40M103.24,496.56v2.40M139.32,514.34v2.40" fill="none" stroke="#3bb54a" stroke-width="0.7"/>
<path d="M55.30,467.60H56.26V468.61H57.07V469.15H58.31V470.75H59.37V473.55H60.54V474.89H61.09V475.96H62.17V476.48H63.24V477.38H63.96V478.19H64.57V478.55H65.42V479.30H66.11V479.65H67.39V479.93H68.04V480.28H69.05V480.97H69.85V481.27H70.95V482.13H71.75V482.57H72.36V482.59H73.62V483.15H74.15V483.29H75.15V485.05H75.60V485.43H76.36V486.33H76.97V487.17H77.50V488.18H78.08V488.71H79.05V490.05H79.88V490.79H81.12V491.83H81.70V492.48H82.77V493.62H83.52V494.17H84.03V494.95H84.64V495.26H85.25V495.59H85.83V496.35H86.79V496.76H87.39V497.39H88.30V497.60H88.86V498.48H89.55V498.63H90.04V499.24H90.66V499.48H91.71V500.19H92.45V500.53H93.47V501.23H94.43V502.43H95.66V503.26H96.59V503.71H97.72V505.08H98.44V505.12H99.32V505.90H100.48V506.82H101.27V507.18H102.10V507.78H103.08V508.39H103.67V508.85H104.12V508.81H105.02V509.24H105.96V510.36H106.67V510.91H107.41V511.91H107.85V512.32H109.14V512.86H110.03V513.55H111.02V514.02H111.85V514.40H112.58V514.57H113.68V515.53H114.08V515.83H115.37V516.34H116.59V517.08H117.56V518.20H118.33V518.50H118.85V519.07H119.53V519.56H120.48V520.17H121.25V520.67H122.24V521.87H122.91V522.08H123.88V523.00H125.02V523.84H125.82V523.81H126.75V524.10H127.57V524.24H128.31V524.48H129.14V524.32H130.11V524.63H130.82V524.94H132.00V525.07H132.76V525.37H133.93V525.73H135.22V525.59H136.10V525.98H136.82V526.19H137.76V527.25H138.75V527.68H139.57V528.82H140.32V529.13H141.04V529.94H141.71V530.24H142.12V530.53H143.13V531.19H143.83V531.80H144.96V532.91H145.40V532.79H146.03V533.24H146.86V534.28H147.62V534.65H148.48V535.39H149.23V535.75H149.74V535.93H150.17V536.31H151.14V536.64H151.97V537.27H152.66V537.70H153.13V537.55H154.41V538.43H155.26V538.30H155.96V538.72H156.68V539.03H157.40V539.60H157.84V539.75H158.58V540.13H159.79V540.58H160.66V540.88H161.19V540.78H161.70V540.81H162.94V541.48H163.54V542.03H164.66V542.30H165.33V542.26H165.84V542.76H167.07V543.26H167.70V543.22H168.85V543.87H169.69V543.95H170.14V543.78H171.42V544.00H172.54V544.33H173.60V544.56H174.09V544.98H175.34V545.16H176.55V545.50H177.72V545.64H178.92V545.92H179.69V545.89H180.84V546.71H181.67V547.70H182.82V549.30H183.97V550.53H184.77V551.55H185.71V552.46H186.16V553.14H186.66V553.72H187.18V554.24H188.06V554.52H189.19V555.41H190.43V556.08H191.28V556.66H192.31V557.28H193.23V557.92H193.81V558.58H194.50V558.72H195.43V558.69H196.18V558.77H196.69V558.94H197.94V559.18H198.78V559.58H199.48V559.49H200.55V560.07H201.49V560.09H202.70V560.16H203.72V560.00H204.48V560.25H205.72V560.37H206.86V560.22H207.94V560.44H209.05V560.07H210.13V560.58H211.24V560.43H211.65V560.25H212.09V560.47H213.04V560.62H213.53V560.39H214.81V560.62H215.32V560.36H216.61V560.35H217.50V560.24H218.72V560.75H219.50V560.27H220.22V560.61H221.44V560.56H222.21V560.37H222.91V560.48H223.60V560.57" fill="none" stroke="#c8172f" stroke-width="1.7" stroke-linejoin="round"/>
<path d="M186.31,552.11v2.40M87.16,495.83v2.40M69.66,480.13v2.40M85.39,494.61v2.40M83.89,493.56v2.40M213.84,559.19v2.40M136.08,524.85v2.40M111.31,512.88v2.40M69.43,480.01v2.40M98.15,503.98v2.40M174.20,543.70v2.40M172.73,543.37v2.40M150.64,535.42v2.40M109.82,512.04v2.40M194.72,557.34v2.40M115.95,515.54v2.40M192.26,556.14v2.40M59.93,473.42v2.40M213.34,559.18v2.40M144.53,531.21v2.40M200.55,558.86v2.40M218.00,559.28v2.40M77.87,487.22v2.40M63.39,476.51v2.40M102.13,506.50v2.40M87.89,496.34v2.40M175.31,543.95v2.40M148.28,533.80v2.40M156.21,537.68v2.40M214.38,559.20v2.40" fill="none" stroke="#c8172f" stroke-width="0.7"/>
<text x="55.00" y="616.17" font-size="6.9" fill="#2b2b2b" stroke="#2b2b2b" stroke-width="0.0" textLength="44.60" lengthAdjust="spacingAndGlyphs">Number at risk</text>
<line x1="55.10" y1="618.00" x2="55.10" y2="651.20" stroke="#3c3c3c" stroke-width="1.3"/>
<line x1="55.10" y1="648.40" x2="223.00" y2="648.40" stroke="#3c3c3c" stroke-width="1.3"/>
<line x1="95.10" y1="648.40" x2="95.10" y2="651.40" stroke="#3c3c3c" stroke-width="1.0"/>
<line x1="135.10" y1="648.40" x2="135.10" y2="651.40" stroke="#3c3c3c" stroke-width="1.0"/>
<line x1="175.10" y1="648.40" x2="175.10" y2="651.40" stroke="#3c3c3c" stroke-width="1.0"/>
<line x1="215.10" y1="648.40" x2="215.10" y2="651.40" stroke="#3c3c3c" stroke-width="1.0"/>
<text x="55.10" y="660.01" font-size="8.4" fill="#2b2b2b" stroke="#2b2b2b" stroke-width="0.0" text-anchor="middle">0</text>
<text x="95.10" y="660.01" font-size="8.4" fill="#2b2b2b" stroke="#2b2b2b" stroke-width="0.0" text-anchor="middle">2</text>
<text x="135.10" y="660.01" font-size="8.4" fill="#2b2b2b" stroke="#2b2b2b" stroke-width="0.0" text-anchor="middle">4</text>
<text x="175.10" y="660.01" font-size="8.4" fill="#2b2b2b" stroke="#2b2b2b" stroke-width="0.0" text-anchor="middle">6</text>
<text x="215.10" y="660.01" font-size="8.4" fill="#2b2b2b" stroke="#2b2b2b" stroke-width="0.0" text-anchor="middle">8</text>
<text x="98.80" y="671.90" font-size="9.0" fill="#2b2b2b" stroke="#2b2b2b" stroke-width="0.18" textLength="80.10" lengthAdjust="spacingAndGlyphs">Years (after treatment start)</text>
<text x="39.80" y="636.58" font-size="10.0" fill="#2b2b2b" stroke="#2b2b2b" stroke-width="0.1" text-anchor="middle" textLength="17.00" lengthAdjust="spacingAndGlyphs" transform="rotate(-90 39.80 633.00)">Strata</text>
<line x1="48.00" y1="623.70" x2="53.00" y2="623.70" stroke="#1f4f8f" stroke-width="1.8"/>
<text x="56.30" y="626.03" font-size="6.5" fill="#2b2b2b" stroke="#2b2b2b" stroke-width="0.0">734</text>
<text x="95.10" y="626.03" font-size="6.5" fill="#2b2b2b" stroke="#2b2b2b" stroke-width="0.0" text-anchor="middle">542</text>
<text x="135.10" y="626.03" font-size="6.5" fill="#2b2b2b" stroke="#2b2b2b" stroke-width="0.0" text-anchor="middle">348</text>
<text x="175.10" y="626.03" font-size="6.5" fill="#2b2b2b" stroke="#2b2b2b" stroke-width="0.0" text-anchor="middle">184</text>
<text x="215.10" y="626.03" font-size="6.5" fill="#2b2b2b" stroke="#2b2b2b" stroke-width="0.0" text-anchor="middle">80</text>
<line x1="48.00" y1="632.60" x2="53.00" y2="632.60" stroke="#3bb54a" stroke-width="1.8"/>
<text x="56.30" y="634.93" font-size="6.5" fill="#2b2b2b" stroke="#2b2b2b" stroke-width="0.0">524</text>
<text x="95.10" y="634.93" font-size="6.5" fill="#2b2b2b" stroke="#2b2b2b" stroke-width="0.0" text-anchor="middle">361</text>
<text x="135.10" y="634.93" font-size="6.5" fill="#2b2b2b" stroke="#2b2b2b" stroke-width="0.0" text-anchor="middle">214</text>
<text x="175.10" y="634.93" font-size="6.5" fill="#2b2b2b" stroke="#2b2b2b" stroke-width="0.0" text-anchor="middle">102</text>
<text x="215.10" y="634.93" font-size="6.5" fill="#2b2b2b" stroke="#2b2b2b" stroke-width="0.0" text-anchor="middle">39</text>
<line x1="48.00" y1="641.70" x2="53.00" y2="641.70" stroke="#c8172f" stroke-width="1.8"/>
<text x="56.30" y="644.03" font-size="6.5" fill="#2b2b2b" stroke="#2b2b2b" stroke-width="0.0">255</text>
<text x="95.10" y="644.03" font-size="6.5" fill="#2b2b2b" stroke="#2b2b2b" stroke-width="0.0" text-anchor="middle">159</text>
<text x="135.10" y="644.03" font-size="6.5" fill="#2b2b2b" stroke="#2b2b2b" stroke-width="0.0" text-anchor="middle">90</text>
<text x="175.10" y="644.03" font-size="6.5" fill="#2b2b2b" stroke="#2b2b2b" stroke-width="0.0" text-anchor="middle">34</text>
<text x="215.10" y="644.03" font-size="6.5" fill="#2b2b2b" stroke="#2b2b2b" stroke-width="0.0" text-anchor="middle">16</text>
<text x="293.60" y="472.46" font-size="10.5" fill="#111" stroke="#111" stroke-width="0.0" font-weight="bold">F</text>
<line x1="342.30" y1="463.70" x2="342.30" y2="583.40" stroke="#3c3c3c" stroke-width="1.3"/>
<line x1="339.30" y1="467.60" x2="342.30" y2="467.60" stroke="#3c3c3c" stroke-width="1.0"/>
<text x="336.00" y="470.46" font-size="8.0" fill="#2b2b2b" stroke="#2b2b2b" stroke-width="0.0" text-anchor="end" textLength="14.50" lengthAdjust="spacingAndGlyphs">1.00</text>
<line x1="339.30" y1="496.40" x2="342.30" y2="496.40" stroke="#3c3c3c" stroke-width="1.0"/>
<text x="336.00" y="499.26" font-size="8.0" fill="#2b2b2b" stroke="#2b2b2b" stroke-width="0.0" text-anchor="end" textLength="14.50" lengthAdjust="spacingAndGlyphs">0.75</text>
<line x1="339.30" y1="525.30" x2="342.30" y2="525.30" stroke="#3c3c3c" stroke-width="1.0"/>
<text x="336.00" y="528.16" font-size="8.0" fill="#2b2b2b" stroke="#2b2b2b" stroke-width="0.0" text-anchor="end" textLength="14.50" lengthAdjust="spacingAndGlyphs">0.50</text>
<line x1="339.30" y1="554.10" x2="342.30" y2="554.10" stroke="#3c3c3c" stroke-width="1.0"/>
<text x="336.00" y="556.96" font-size="8.0" fill="#2b2b2b" stroke="#2b2b2b" stroke-width="0.0" text-anchor="end" textLength="14.50" lengthAdjust="spacingAndGlyphs">0.25</text>
<line x1="339.30" y1="582.90" x2="342.30" y2="582.90" stroke="#3c3c3c" stroke-width="1.0"/>
<text x="336.00" y="585.76" font-size="8.0" fill="#2b2b2b" stroke="#2b2b2b" stroke-width="0.0" text-anchor="end" textLength="14.50" lengthAdjust="spacingAndGlyphs">0.00</text>
<line x1="342.30" y1="582.80" x2="510.60" y2="582.80" stroke="#3c3c3c" stroke-width="1.3"/>
<line x1="342.40" y1="582.80" x2="342.40" y2="585.80" stroke="#3c3c3c" stroke-width="1.0"/>
<text x="342.40" y="595.01" font-size="8.4" fill="#2b2b2b" stroke="#2b2b2b" stroke-width="0.0" text-anchor="middle">0</text>
<line x1="368.67" y1="582.80" x2="368.67" y2="585.80" stroke="#3c3c3c" stroke-width="1.0"/>
<text x="368.67" y="595.01" font-size="8.4" fill="#2b2b2b" stroke="#2b2b2b" stroke-width="0.0" text-anchor="middle">1</text>
<line x1="394.94" y1="582.80" x2="394.94" y2="585.80" stroke="#3c3c3c" stroke-width="1.0"/>
<text x="394.94" y="595.01" font-size="8.4" fill="#2b2b2b" stroke="#2b2b2b" stroke-width="0.0" text-anchor="middle">2</text>
<line x1="421.21" y1="582.80" x2="421.21" y2="585.80" stroke="#3c3c3c" stroke-width="1.0"/>
<text x="421.21" y="595.01" font-size="8.4" fill="#2b2b2b" stroke="#2b2b2b" stroke-width="0.0" text-anchor="middle">3</text>
<line x1="447.48" y1="582.80" x2="447.48" y2="585.80" stroke="#3c3c3c" stroke-width="1.0"/>
<text x="447.48" y="595.01" font-size="8.4" fill="#2b2b2b" stroke="#2b2b2b" stroke-width="0.0" text-anchor="middle">4</text>
<line x1="473.75" y1="582.80" x2="473.75" y2="585.80" stroke="#3c3c3c" stroke-width="1.0"/>
<text x="473.75" y="595.01" font-size="8.4" fill="#2b2b2b" stroke="#2b2b2b" stroke-width="0.0" text-anchor="middle">5</text>
<line x1="500.02" y1="582.80" x2="500.02" y2="585.80" stroke="#3c3c3c" stroke-width="1.0"/>
<text x="500.02" y="595.01" font-size="8.4" fill="#2b2b2b" stroke="#2b2b2b" stroke-width="0.0" text-anchor="middle">6</text>
<text x="386.30" y="607.40" font-size="9.0" fill="#2b2b2b" stroke="#2b2b2b" stroke-width="0.18" textLength="79.90" lengthAdjust="spacingAndGlyphs">Years (after treatment start)</text>
<text x="311.90" y="527.18" font-size="10.0" fill="#2b2b2b" stroke="#2b2b2b" stroke-width="0.18" text-anchor="middle" textLength="51.70" lengthAdjust="spacingAndGlyphs" transform="rotate(-90 311.90 523.60)">Percent event free</text>
<text x="347.00" y="572.38" font-size="7.2" fill="#2b2b2b" stroke="#2b2b2b" stroke-width="0.0" textLength="31.00" lengthAdjust="spacingAndGlyphs">p = .0064</text>
<text x="460.80" y="488.16" font-size="6.6" fill="#2b2b2b" stroke="#2b2b2b" stroke-width="0.0" textLength="16.30" lengthAdjust="spacingAndGlyphs">Strata</text>
<line x1="460.50" y1="494.50" x2="465.50" y2="494.50" stroke="#1f4f8f" stroke-width="1.6"/>
<line x1="463.00" y1="493.20" x2="463.00" y2="495.80" stroke="#1f4f8f" stroke-width="0.9"/>
<text x="468.00" y="496.86" font-size="6.6" fill="#2b2b2b" stroke="#2b2b2b" stroke-width="0.0" textLength="21.50" lengthAdjust="spacingAndGlyphs">Low risk</text>
<line x1="460.50" y1="502.50" x2="465.50" y2="502.50" stroke="#3bb54a" stroke-width="1.6"/>
<line x1="463.00" y1="501.20" x2="463.00" y2="503.80" stroke="#3bb54a" stroke-width="0.9"/>
<text x="468.00" y="504.86" font-size="6.6" fill="#2b2b2b" stroke="#2b2b2b" stroke-width="0.0" textLength="43.30" lengthAdjust="spacingAndGlyphs">Intermediate risk</text>
<line x1="460.50" y1="510.00" x2="465.50" y2="510.00" stroke="#c8172f" stroke-width="1.6"/>
<line x1="463.00" y1="508.70" x2="463.00" y2="511.30" stroke="#c8172f" stroke-width="0.9"/>
<text x="468.00" y="512.36" font-size="6.6" fill="#2b2b2b" stroke="#2b2b2b" stroke-width="0.0" textLength="23.20" lengthAdjust="spacingAndGlyphs">High risk</text>
<path d="M342.40,467.60H343.59V470.58H345.17V474.31H346.15V476.96H347.33V478.63H348.42V479.50H349.22V480.33H350.89V481.72H352.26V482.76H353.38V483.76H354.85V485.33H355.80V486.69H356.81V487.70H358.15V488.91H359.50V489.94H360.96V491.58H362.05V492.69H362.72V493.57H363.34V494.25H364.96V496.39H366.06V497.07H367.08V498.16H367.94V499.43H369.28V500.43H370.47V501.69H371.54V502.46H372.61V503.36H374.04V504.92H375.39V505.95H377.14V506.49H377.99V506.73H379.68V507.08H381.20V507.98H382.82V508.29H383.96V509.10H385.41V509.79H386.23V510.08H387.71V510.60H388.56V511.38H389.84V511.77H391.03V512.27H391.92V512.64H393.00V513.38H394.68V514.96H395.99V515.30H397.31V516.20H398.35V516.68H399.55V517.14H400.49V517.61H401.65V518.50H402.94V518.94H404.41V519.39H405.09V519.38H405.85V519.96H406.86V520.62H407.70V520.35H409.07V520.83H409.73V520.77H410.87V521.21H412.40V521.46H413.65V521.68H414.81V521.45H415.58V521.89H416.96V521.95H418.73V522.21H419.70V522.39H421.42V522.54H423.15V523.39H423.88V523.75H425.42V524.48H426.34V525.26H427.07V525.69H428.10V526.35H429.31V526.97H430.15V527.86H431.30V528.29H432.61V529.44H433.32V529.72H434.10V530.41H434.76V530.88H436.03V531.49H437.27V532.10H438.42V532.73H439.44V533.60H440.78V534.25H442.12V535.33H443.65V535.79H444.85V536.28H446.43V536.85H447.56V537.10H448.77V537.11H450.47V537.37H451.11V537.65H451.88V537.86H453.22V538.49H454.99V539.98H456.71V541.88H457.97V542.87H458.66V543.55H459.79V544.04H461.50V544.41H462.21V544.33H463.76V544.72H465.13V544.93H466.71V545.77H467.75V545.87H469.42V545.98H470.59V546.79H472.34V547.06H473.59V547.11H475.19V548.15H476.47V548.11H477.22V548.56H478.65V548.90H480.26V548.97H480.87V549.17H481.84V549.38H482.73V549.70H484.31V550.29H485.15V550.50H485.93V550.98H486.64V550.71H487.93V551.43H489.31V551.33H490.65V552.03H492.36V553.22H493.27V554.00H494.70V555.11H495.55V555.70H496.72V556.21H497.63V556.81H499.30V558.11H500.66V559.22H501.56V559.64H503.18V559.55H504.25V559.76H505.43V560.00H507.07V560.10H508.69V560.33H510.27V559.90H510.60V560.21" fill="none" stroke="#1f4f8f" stroke-width="1.5" stroke-linejoin="round"/>
<path d="M377.90,505.48v2.60M405.30,518.43v2.60M432.90,528.16v2.60M433.19,528.36v2.60M472.02,545.63v2.60M473.01,545.92v2.60M381.41,506.47v2.60M439.95,532.55v2.60M423.49,522.28v2.60M418.81,520.85v2.60M465.33,543.92v2.60M463.41,543.55v2.60M462.24,543.32v2.60M408.81,519.43v2.60M359.26,488.57v2.60M441.98,533.78v2.60M387.34,509.27v2.60M396.66,514.69v2.60M361.97,491.53v2.60M357.87,487.17v2.60M418.74,520.84v2.60M504.16,558.56v2.60M446.90,535.60v2.60M387.28,509.24v2.60M502.52,558.47v2.60M377.74,505.43v2.60M456.97,540.51v2.60M357.21,486.51v2.60M503.45,558.52v2.60M495.90,554.46v2.60M483.67,548.82v2.60M408.22,519.34v2.60M420.13,521.03v2.60M427.43,524.53v2.60M497.86,555.93v2.60" fill="none" stroke="#1f4f8f" stroke-width="0.7"/>
<path d="M342.40,467.60H344.11V471.48H345.88V475.71H347.04V478.86H348.06V480.75H348.86V482.20H350.64V484.39H351.39V485.69H352.61V487.70H353.62V489.10H354.41V490.05H355.11V491.29H356.38V492.60H358.11V493.86H359.12V494.81H360.85V496.18H361.80V496.97H363.23V497.94H364.04V498.81H365.33V499.68H365.94V499.93H366.66V500.54H368.35V502.16H369.97V503.13H371.25V504.56H372.26V505.13H373.71V506.36H374.88V507.38H376.47V508.53H377.19V508.62H378.56V509.41H379.96V510.23H381.20V510.97H382.59V511.59H383.68V512.49H384.59V513.18H386.38V514.26H388.09V515.96H389.38V517.18H390.47V517.81H392.18V520.03H393.09V520.61H393.97V521.70H394.77V522.56H395.42V522.96H396.95V523.92H397.72V524.03H399.14V524.76H400.07V525.55H401.04V525.69H402.60V526.88H403.93V527.18H405.11V528.29H406.33V528.26H408.05V528.84H409.28V529.10H410.92V529.91H412.15V530.17H413.16V530.45H414.37V530.55H415.83V531.53H416.46V531.42H417.92V532.13H418.69V532.66H420.47V533.17H421.78V533.82H423.05V534.37H424.74V535.65H426.41V536.51H427.92V536.97H429.41V537.34H430.92V537.39H431.73V537.97H432.83V538.02H434.21V538.39H435.72V539.00H437.42V540.15H439.17V541.34H440.71V542.21H441.92V542.64H443.55V543.27H444.84V543.23H446.06V543.61H446.78V544.07H448.04V544.56H449.65V544.39H451.38V545.21H453.17V545.96H454.33V546.76H455.24V547.03H456.24V547.49H457.49V548.20H459.15V550.83H460.04V551.95H460.65V552.22H461.67V552.49H462.89V552.97H464.44V554.11H465.77V554.20H466.55V554.43H467.37V555.24H468.89V555.80H469.93V555.93H471.39V556.43H472.77V556.47H474.56V557.34H475.50V557.47H477.01V558.30H477.66V558.11H478.32V558.62H479.64V559.11H480.47V559.30H482.13V559.86H482.97V560.11H484.53V560.44H485.98V560.67H487.56V560.34H488.52V560.87H489.72V560.35H490.45V560.41H491.85V560.49H492.56V560.46H494.12V560.73H495.30V561.53H496.01V562.13H497.67V564.04H498.29V564.70H500.02V566.05H501.69V567.00H502.71V567.05H503.92V567.03H504.80V566.85H505.76V567.14H507.40V567.22H508.61V567.04H509.40V567.22H510.60V567.01" fill="none" stroke="#3bb54a" stroke-width="1.5" stroke-linejoin="round"/>
<path d="M469.35,554.42v2.60M484.43,559.30v2.60M403.64,525.97v2.60M346.41,475.82v2.60M483.22,559.08v2.60M430.03,536.10v2.60M357.79,492.41v2.60M445.66,542.37v2.60M449.33,543.28v2.60M448.19,543.00v2.60M452.80,544.58v2.60M435.47,537.65v2.60M352.36,485.86v2.60M493.04,559.30v2.60M454.40,545.38v2.60M487.75,559.30v2.60M430.76,536.31v2.60M457.93,547.17v2.60M423.58,533.23v2.60M468.93,554.29v2.60M360.29,494.52v2.60M399.23,523.77v2.60M473.05,555.54v2.60M404.01,526.16v2.60M432.29,536.73v2.60M403.66,525.98v2.60M472.81,555.46v2.60M365.01,498.09v2.60M394.13,520.43v2.60M355.92,490.84v2.60M357.03,491.77v2.60M410.83,528.47v2.60M501.17,565.80v2.60M372.70,504.28v2.60M447.27,542.77v2.60" fill="none" stroke="#3bb54a" stroke-width="0.7"/>
<path d="M342.40,467.60H343.35V468.68H344.75V470.30H345.34V470.97H345.92V471.90H346.49V473.87H347.83V478.47H348.56V480.95H349.93V482.70H350.70V483.64H352.17V485.42H353.55V487.11H354.28V488.13H355.21V489.42H356.19V490.80H357.59V492.75H358.43V494.22H359.90V498.11H360.98V500.97H362.09V502.01H362.98V502.65H363.85V503.28H364.70V503.89H366.19V505.91H367.36V507.71H368.07V508.78H369.53V512.48H370.49V515.85H371.95V517.07H372.81V517.40H373.65V517.71H374.45V518.01H375.82V518.53H377.12V519.02H377.93V519.32H378.46V519.55H379.14V520.06H379.94V520.66H380.94V521.42H382.03V522.24H382.76V522.78H383.84V523.60H384.88V524.38H385.46V524.82H386.58V525.58H387.56V526.15H388.22V526.54H389.20V527.11H390.54V527.89H391.13V529.02H392.05V532.74H392.96V535.89H394.00V536.53H395.29V537.30H396.16V537.83H397.14V538.42H398.44V539.54H399.08V540.18H400.18V541.28H401.53V542.57H402.99V543.36H404.33V544.08H405.07V544.48H405.85V544.90H406.86V545.44H407.39V545.73H408.27V546.20H409.07V546.63H409.78V547.02H411.01V547.68H411.69V548.05H412.61V548.54H413.66V549.04H414.74V549.51H415.43V549.82H416.59V550.33H417.81V550.87H418.53V551.18H419.33V551.54H420.58V552.09H421.86V553.36H422.65V554.15H423.38V554.88H424.85V555.14H425.55V555.21H426.58V555.31H427.16V555.37H428.26V555.48H429.13V555.57H430.55V555.71H431.47V555.80H432.72V555.93H433.62V556.02H434.66V556.12H435.99V556.25H436.65V556.31H437.65V556.39H438.89V556.50H439.96V556.59H440.74V556.66H441.58V556.73H442.94V556.85H443.78V556.93H444.83V557.02H445.84V557.13H446.50V557.68H447.29V558.33H448.21V559.09H449.13V559.85H450.25V560.78H451.58V562.40H453.00V564.84H453.66V565.72H454.45V565.81H455.05V565.88H455.81V565.97H457.19V566.13H457.73V566.19H458.85V566.32H460.07V566.46H460.65V566.53H461.32V566.61H462.38V566.87H463.30V567.10H464.65V567.44H465.64V567.69H466.56V567.92H468.03V568.28H468.54V568.41H469.63V568.68H470.33V568.86H471.24V569.08H472.14V569.20H473.11V569.20H473.73V569.20H474.49V569.20H475.05V569.20H476.02V569.20H476.96V569.20H478.14V569.20H478.83V569.20H480.11V569.20H481.25V571.50H482.59V571.50H483.46V571.50H484.80V571.50H485.88V571.50H486.78V571.50H488.26V571.50H489.70V571.50H490.91V574.90H491.67V574.90H493.12V574.90H493.88V574.90H494.99V574.90H496.11V574.90H496.97V574.90H498.17V574.90H498.73V574.90H500.22V574.90H500.77V574.90H501.90V574.90H503.08V574.90H504.01V574.90H504.62V574.90H505.44V574.90H506.64V574.90H507.77V574.90H508.48V574.90H509.88V574.90H510.60V574.90" fill="none" stroke="#c8172f" stroke-width="1.4" stroke-linejoin="round"/>
<path d="M456.66,564.76v2.60M498.82,573.60v2.60M412.52,547.19v2.60M499.05,573.60v2.60M412.32,547.09v2.60M472.64,567.90v2.60M391.18,527.95v2.60M380.86,520.05v2.60M371.53,515.61v2.60M498.32,573.60v2.60" fill="none" stroke="#c8172f" stroke-width="0.7"/>
<text x="342.70" y="616.17" font-size="6.9" fill="#2b2b2b" stroke="#2b2b2b" stroke-width="0.0" textLength="44.60" lengthAdjust="spacingAndGlyphs">Number at risk</text>
<line x1="342.40" y1="618.00" x2="342.40" y2="651.20" stroke="#3c3c3c" stroke-width="1.3"/>
<line x1="342.40" y1="648.30" x2="510.60" y2="648.30" stroke="#3c3c3c" stroke-width="1.3"/>
<line x1="368.67" y1="648.30" x2="368.67" y2="651.30" stroke="#3c3c3c" stroke-width="1.0"/>
<line x1="394.94" y1="648.30" x2="394.94" y2="651.30" stroke="#3c3c3c" stroke-width="1.0"/>
<line x1="421.21" y1="648.30" x2="421.21" y2="651.30" stroke="#3c3c3c" stroke-width="1.0"/>
<line x1="447.48" y1="648.30" x2="447.48" y2="651.30" stroke="#3c3c3c" stroke-width="1.0"/>
<line x1="473.75" y1="648.30" x2="473.75" y2="651.30" stroke="#3c3c3c" stroke-width="1.0"/>
<line x1="500.02" y1="648.30" x2="500.02" y2="651.30" stroke="#3c3c3c" stroke-width="1.0"/>
<text x="342.40" y="660.01" font-size="8.4" fill="#2b2b2b" stroke="#2b2b2b" stroke-width="0.0" text-anchor="middle">0</text>
<text x="368.67" y="660.01" font-size="8.4" fill="#2b2b2b" stroke="#2b2b2b" stroke-width="0.0" text-anchor="middle">1</text>
<text x="394.94" y="660.01" font-size="8.4" fill="#2b2b2b" stroke="#2b2b2b" stroke-width="0.0" text-anchor="middle">2</text>
<text x="421.21" y="660.01" font-size="8.4" fill="#2b2b2b" stroke="#2b2b2b" stroke-width="0.0" text-anchor="middle">3</text>
<text x="447.48" y="660.01" font-size="8.4" fill="#2b2b2b" stroke="#2b2b2b" stroke-width="0.0" text-anchor="middle">4</text>
<text x="473.75" y="660.01" font-size="8.4" fill="#2b2b2b" stroke="#2b2b2b" stroke-width="0.0" text-anchor="middle">5</text>
<text x="500.02" y="660.01" font-size="8.4" fill="#2b2b2b" stroke="#2b2b2b" stroke-width="0.0" text-anchor="middle">6</text>
<text x="385.50" y="671.90" font-size="9.0" fill="#2b2b2b" stroke="#2b2b2b" stroke-width="0.18" textLength="80.50" lengthAdjust="spacingAndGlyphs">Years (after treatment start)</text>
<text x="327.60" y="636.58" font-size="10.0" fill="#2b2b2b" stroke="#2b2b2b" stroke-width="0.1" text-anchor="middle" textLength="17.00" lengthAdjust="spacingAndGlyphs" transform="rotate(-90 327.60 633.00)">Strata</text>
<line x1="336.00" y1="623.70" x2="340.00" y2="623.70" stroke="#1f4f8f" stroke-width="1.8"/>
<text x="344.00" y="626.03" font-size="6.5" fill="#2b2b2b" stroke="#2b2b2b" stroke-width="0.0">272</text>
<text x="368.67" y="626.03" font-size="6.5" fill="#2b2b2b" stroke="#2b2b2b" stroke-width="0.0" text-anchor="middle">202</text>
<text x="394.94" y="626.03" font-size="6.5" fill="#2b2b2b" stroke="#2b2b2b" stroke-width="0.0" text-anchor="middle">170</text>
<text x="421.21" y="626.03" font-size="6.5" fill="#2b2b2b" stroke="#2b2b2b" stroke-width="0.0" text-anchor="middle">139</text>
<text x="447.48" y="626.03" font-size="6.5" fill="#2b2b2b" stroke="#2b2b2b" stroke-width="0.0" text-anchor="middle">93</text>
<text x="473.75" y="626.03" font-size="6.5" fill="#2b2b2b" stroke="#2b2b2b" stroke-width="0.0" text-anchor="middle">60</text>
<text x="500.02" y="626.03" font-size="6.5" fill="#2b2b2b" stroke="#2b2b2b" stroke-width="0.0" text-anchor="middle">34</text>
<line x1="336.00" y1="632.60" x2="340.00" y2="632.60" stroke="#3bb54a" stroke-width="1.8"/>
<text x="344.00" y="634.93" font-size="6.5" fill="#2b2b2b" stroke="#2b2b2b" stroke-width="0.0">186</text>
<text x="368.67" y="634.93" font-size="6.5" fill="#2b2b2b" stroke="#2b2b2b" stroke-width="0.0" text-anchor="middle">137</text>
<text x="394.94" y="634.93" font-size="6.5" fill="#2b2b2b" stroke="#2b2b2b" stroke-width="0.0" text-anchor="middle">108</text>
<text x="421.21" y="634.93" font-size="6.5" fill="#2b2b2b" stroke="#2b2b2b" stroke-width="0.0" text-anchor="middle">75</text>
<text x="447.48" y="634.93" font-size="6.5" fill="#2b2b2b" stroke="#2b2b2b" stroke-width="0.0" text-anchor="middle">45</text>
<text x="473.75" y="634.93" font-size="6.5" fill="#2b2b2b" stroke="#2b2b2b" stroke-width="0.0" text-anchor="middle">27</text>
<text x="500.02" y="634.93" font-size="6.5" fill="#2b2b2b" stroke="#2b2b2b" stroke-width="0.0" text-anchor="middle">13</text>
<line x1="336.00" y1="641.70" x2="340.00" y2="641.70" stroke="#c8172f" stroke-width="1.8"/>
<text x="344.00" y="644.03" font-size="6.5" fill="#2b2b2b" stroke="#2b2b2b" stroke-width="0.0">94</text>
<text x="368.67" y="644.03" font-size="6.5" fill="#2b2b2b" stroke="#2b2b2b" stroke-width="0.0" text-anchor="middle">63</text>
<text x="394.94" y="644.03" font-size="6.5" fill="#2b2b2b" stroke="#2b2b2b" stroke-width="0.0" text-anchor="middle">43</text>
<text x="421.21" y="644.03" font-size="6.5" fill="#2b2b2b" stroke="#2b2b2b" stroke-width="0.0" text-anchor="middle">25</text>
<text x="447.48" y="644.03" font-size="6.5" fill="#2b2b2b" stroke="#2b2b2b" stroke-width="0.0" text-anchor="middle">21</text>
<text x="473.75" y="644.03" font-size="6.5" fill="#2b2b2b" stroke="#2b2b2b" stroke-width="0.0" text-anchor="middle">11</text>
<text x="500.02" y="644.03" font-size="6.5" fill="#2b2b2b" stroke="#2b2b2b" stroke-width="0.0" text-anchor="middle">5</text>
</svg>
</body></html>
